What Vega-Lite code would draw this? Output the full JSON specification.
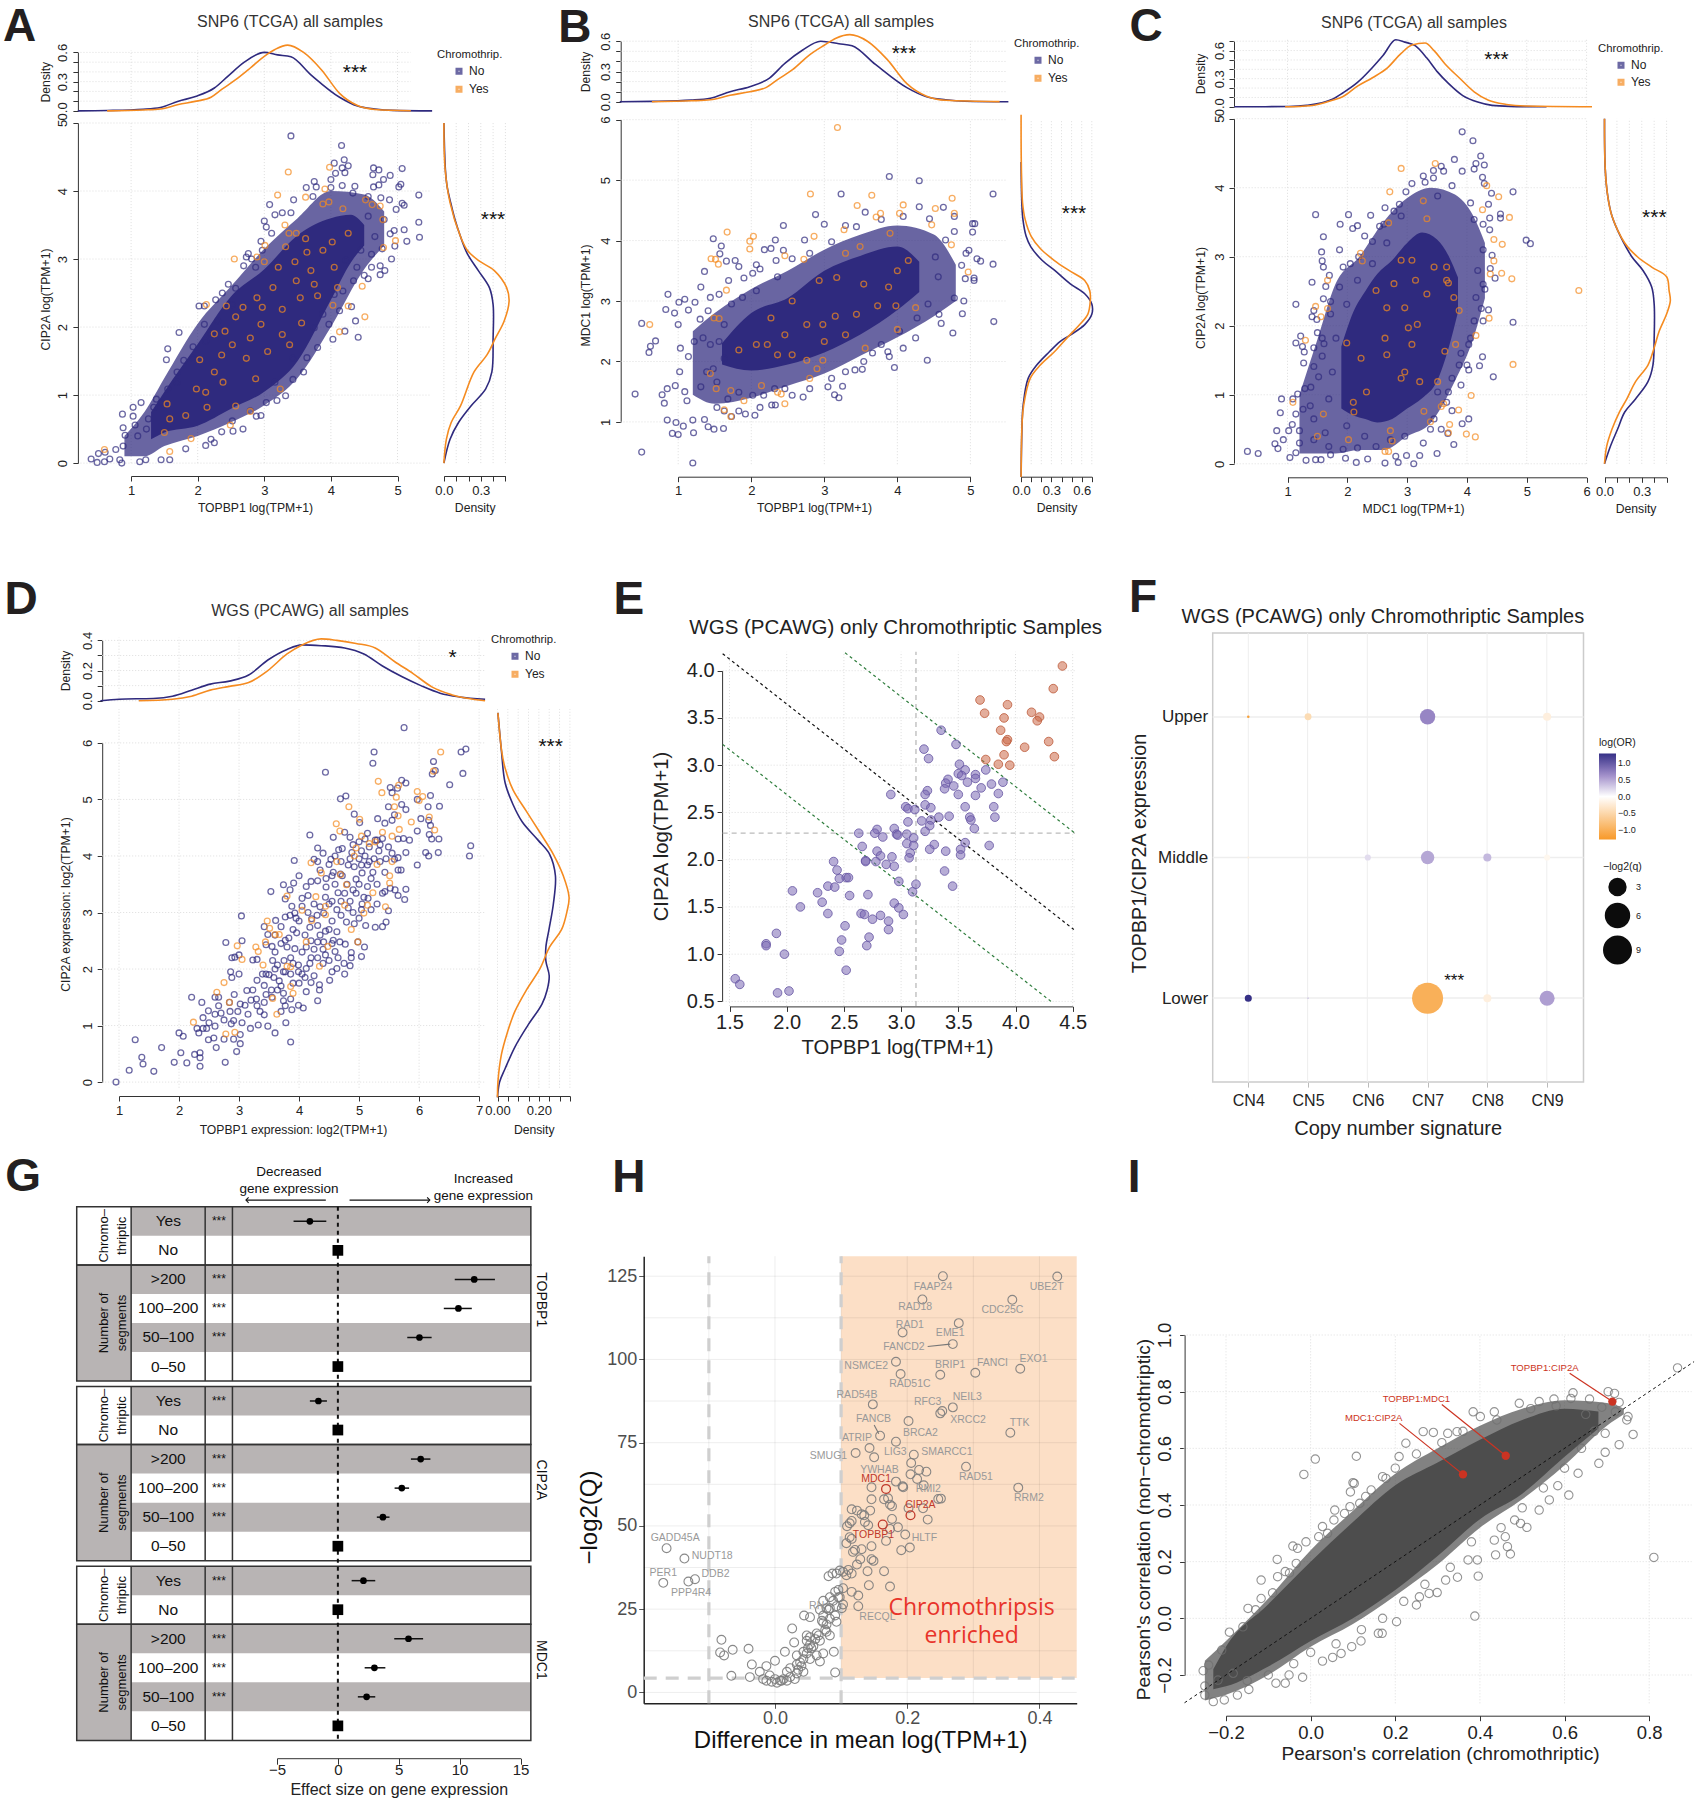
{"$schema":"https://vega.github.io/schema/vega-lite/v6.json","width":1695,"height":1800,"padding":0,"autosize":{"type":"fit","contains":"padding"},"background":"white",
"config":{"font":"Liberation Sans","view":{"stroke":null},"axis":{"grid":false,"labelOverlap":false,"labelFlush":false,"labelBound":false,"domainColor":"#333333","tickColor":"#333333","labelColor":"#222222","titleColor":"#222222","titleFontWeight":"normal","labelFontSize":13,"titleFontSize":12.2,"tickSize":5,"labelPadding":3,"titlePadding":4},"legend":{"titleFontWeight":"normal","titleColor":"#222222","labelColor":"#222222"}},
"resolve":{"scale":{"x":"independent","y":"independent","color":"independent","size":"independent"},"axis":{"x":"independent","y":"independent"},"legend":{"color":"independent","size":"independent"}},
"layer":[
{"layer":[
{"data":{"values":[{"x":1},{"x":2},{"x":3},{"x":4},{"x":5}]},"mark":{"type":"rule","color":"#dddddd","strokeDash":[1,2]},"encoding":{"x":{"field":"x","type":"quantitative","scale":{"domain":[1,5],"range":[131.1,397.5],"nice":false,"zero":false},"axis":null},"y":{"datum":0,"scale":{"domain":[0,0.6],"range":[110.9,52.4],"nice":false,"zero":false},"axis":{"orient":"left","title":"Density","values":[0,0.1,0.2,0.3,0.4,0.5,0.6],"labelExpr":"round(datum.value*10)%3==0 ? format(datum.value,'.1f') : ''","labelAngle":-90,"offset":-77.9}},"y2":{"datum":0.62}}},
{"data":{"values":[{"y":0},{"y":0.1},{"y":0.2},{"y":0.3},{"y":0.4},{"y":0.5},{"y":0.6}]},"mark":{"type":"rule","color":"#dddddd","strokeDash":[1,2]},"encoding":{"y":{"field":"y","type":"quantitative"},"x":{"datum":0.24,"axis":null},"x2":{"datum":5.2}}},
{"data":{"values":[{"x":0.2,"y":0,"g":"No"},{"x":0.64,"y":0.004,"g":"No"},{"x":1.18,"y":0.017,"g":"No"},{"x":1.44,"y":0.035,"g":"No"},{"x":1.71,"y":0.1,"g":"No"},{"x":1.98,"y":0.15,"g":"No"},{"x":2.25,"y":0.235,"g":"No"},{"x":2.46,"y":0.36,"g":"No"},{"x":2.7,"y":0.5,"g":"No"},{"x":3,"y":0.6,"g":"No"},{"x":3.2,"y":0.575,"g":"No"},{"x":3.4,"y":0.555,"g":"No"},{"x":3.7,"y":0.37,"g":"No"},{"x":4.13,"y":0.14,"g":"No"},{"x":4.4,"y":0.05,"g":"No"},{"x":4.66,"y":0.02,"g":"No"},{"x":4.93,"y":0.005,"g":"No"},{"x":5.52,"y":0,"g":"No"},{"x":0.64,"y":0,"g":"Yes"},{"x":1.18,"y":0.01,"g":"Yes"},{"x":1.44,"y":0.02,"g":"Yes"},{"x":1.71,"y":0.065,"g":"Yes"},{"x":1.98,"y":0.1,"g":"Yes"},{"x":2.2,"y":0.14,"g":"Yes"},{"x":2.36,"y":0.22,"g":"Yes"},{"x":2.57,"y":0.32,"g":"Yes"},{"x":2.79,"y":0.44,"g":"Yes"},{"x":3,"y":0.56,"g":"Yes"},{"x":3.16,"y":0.63,"g":"Yes"},{"x":3.35,"y":0.675,"g":"Yes"},{"x":3.59,"y":0.6,"g":"Yes"},{"x":3.86,"y":0.42,"g":"Yes"},{"x":4.13,"y":0.18,"g":"Yes"},{"x":4.4,"y":0.055,"g":"Yes"},{"x":4.66,"y":0.015,"g":"Yes"},{"x":5.2,"y":0.002,"g":"Yes"}]},"mark":{"type":"line","interpolate":"monotone","strokeWidth":1.6},"encoding":{"x":{"field":"x","type":"quantitative","axis":null},"y":{"field":"y","type":"quantitative"},"color":{"field":"g","type":"nominal","scale":{"domain":["No","Yes"],"range":["#2f2a7e","#f58b20"]},"legend":null}}},
{"data":{"values":[{"t":"SNP6 (TCGA) all samples","x":3.386,"y":0.912}]},"mark":{"type":"text","fontSize":16,"color":"#333333"},"encoding":{"x":{"field":"x","type":"quantitative","axis":null},"y":{"field":"y","type":"quantitative"},"text":{"field":"t"}}},
{"data":{"values":[{"t":"A","x":-0.674,"y":0.712}]},"mark":{"type":"text","fontSize":46,"fontWeight":"bold","baseline":"alphabetic","color":"#231f20"},"encoding":{"x":{"field":"x","type":"quantitative","axis":null},"y":{"field":"y","type":"quantitative"},"text":{"field":"t"}}},
{"data":{"values":[{"t":"***","x":4.362,"y":0.39}]},"mark":{"type":"text","fontSize":21,"color":"#111111"},"encoding":{"x":{"field":"x","type":"quantitative","axis":null},"y":{"field":"y","type":"quantitative"},"text":{"field":"t"}}}
]},
{"layer":[
{"data":{"values":[{"x":1},{"x":2},{"x":3},{"x":4},{"x":5}]},"mark":{"type":"rule","color":"#dddddd","strokeDash":[1,2]},"encoding":{"x":{"field":"x","type":"quantitative","scale":{"domain":[1,5],"range":[131.1,397.5],"nice":false,"zero":false},"axis":{"orient":"bottom","title":"TOPBP1 log(TPM+1)","values":[1,2,3,4,5],"format":"d","offset":-1324,"titleX":255}},"y":{"datum":0,"scale":{"domain":[0,5],"range":[463.1,123],"nice":false,"zero":false},"axis":{"orient":"left","title":"CIP2A log(TPM+1)","values":[0,1,2,3,4,5],"format":"d","labelAngle":-90,"offset":-77.9,"titleY":299}},"y2":{"datum":5}}},
{"data":{"values":[{"y":0},{"y":1},{"y":2},{"y":3},{"y":4},{"y":5}]},"mark":{"type":"rule","color":"#dddddd","strokeDash":[1,2]},"encoding":{"y":{"field":"y","type":"quantitative"},"x":{"datum":0.24},"x2":{"datum":5.5}}},
{"data":{"values":[{"x":0.9,"lo":0.1,"hi":0.4},{"x":1.2,"lo":0.1,"hi":0.75},{"x":1.5,"lo":0.25,"hi":1.25},{"x":2,"lo":0.4,"hi":2.05},{"x":2.5,"lo":0.6,"hi":2.6},{"x":3,"lo":0.85,"hi":3.15},{"x":3.5,"lo":1.25,"hi":3.6},{"x":4,"lo":2,"hi":4},{"x":4.5,"lo":2.85,"hi":3.95},{"x":4.8,"lo":3.2,"hi":3.7}]},"mark":{"type":"area","color":"#2f2a7e","opacity":0.72,"interpolate":"monotone"},"encoding":{"x":{"field":"x","type":"quantitative"},"y":{"field":"lo","type":"quantitative"},"y2":{"field":"hi"}}},
{"data":{"values":[{"x":1.3,"lo":0.35,"hi":0.75},{"x":1.5,"lo":0.45,"hi":1.05},{"x":2,"lo":0.55,"hi":1.75},{"x":2.5,"lo":0.8,"hi":2.45},{"x":3,"lo":1.05,"hi":2.85},{"x":3.5,"lo":1.5,"hi":3.35},{"x":4,"lo":2.4,"hi":3.6},{"x":4.3,"lo":2.95,"hi":3.65},{"x":4.5,"lo":3.2,"hi":3.5}]},"mark":{"type":"area","color":"#2f2a7e","interpolate":"monotone"},"encoding":{"x":{"field":"x","type":"quantitative"},"y":{"field":"lo","type":"quantitative"},"y2":{"field":"hi"}}},
{"data":{"values":[{"x":3.4,"y":4.81,"g":"No"},{"x":4.16,"y":4.67,"g":"No"},{"x":4.2,"y":4.46,"g":"No"},{"x":4.07,"y":4.26,"g":"No"},{"x":4,"y":4.17,"g":"No"},{"x":4.26,"y":4.37,"g":"No"},{"x":4.17,"y":4.34,"g":"No"},{"x":4.21,"y":4.27,"g":"No"},{"x":4.05,"y":4.41,"g":"No"},{"x":4.64,"y":4.34,"g":"No"},{"x":4.72,"y":4.31,"g":"No"},{"x":5.07,"y":4.33,"g":"No"},{"x":4.63,"y":4.24,"g":"No"},{"x":4.89,"y":4.23,"g":"No"},{"x":4.79,"y":4.17,"g":"No"},{"x":5.05,"y":4.1,"g":"No"},{"x":5.02,"y":4.06,"g":"No"},{"x":4.72,"y":4.09,"g":"No"},{"x":4.64,"y":4.06,"g":"No"},{"x":5.32,"y":3.94,"g":"No"},{"x":5.07,"y":3.82,"g":"No"},{"x":5.1,"y":3.79,"g":"No"},{"x":4.98,"y":3.73,"g":"No"},{"x":5.32,"y":3.54,"g":"No"},{"x":5.33,"y":3.32,"g":"No"},{"x":5.14,"y":3.26,"g":"No"},{"x":5.1,"y":3.43,"g":"No"},{"x":4.89,"y":3.37,"g":"No"},{"x":4.95,"y":3.42,"g":"No"},{"x":4.96,"y":3.19,"g":"No"},{"x":4.91,"y":3,"g":"No"},{"x":4.74,"y":2.9,"g":"No"},{"x":4.81,"y":2.83,"g":"No"},{"x":4.74,"y":2.77,"g":"No"},{"x":4.61,"y":2.88,"g":"No"},{"x":4.56,"y":2.71,"g":"No"},{"x":4.5,"y":2.76,"g":"No"},{"x":4.34,"y":2.68,"g":"No"},{"x":4.31,"y":2.3,"g":"No"},{"x":4.37,"y":2.09,"g":"No"},{"x":4.41,"y":1.85,"g":"No"},{"x":4.21,"y":1.94,"g":"No"},{"x":4.03,"y":1.82,"g":"No"},{"x":4.13,"y":2.24,"g":"No"},{"x":4.05,"y":2.48,"g":"No"},{"x":4.18,"y":2.53,"g":"No"},{"x":3.97,"y":2.04,"g":"No"},{"x":3.8,"y":1.7,"g":"No"},{"x":3.64,"y":1.55,"g":"No"},{"x":3.59,"y":1.34,"g":"No"},{"x":3.43,"y":1.23,"g":"No"},{"x":3.32,"y":0.99,"g":"No"},{"x":3.19,"y":0.92,"g":"No"},{"x":3.03,"y":0.89,"g":"No"},{"x":2.95,"y":0.7,"g":"No"},{"x":2.88,"y":0.69,"g":"No"},{"x":2.68,"y":0.5,"g":"No"},{"x":2.53,"y":0.47,"g":"No"},{"x":2.36,"y":0.46,"g":"No"},{"x":2.2,"y":0.35,"g":"No"},{"x":2.12,"y":0.26,"g":"No"},{"x":1.82,"y":0.21,"g":"No"},{"x":1.58,"y":0.05,"g":"No"},{"x":1.45,"y":0.05,"g":"No"},{"x":1.22,"y":0.05,"g":"No"},{"x":1.13,"y":0.02,"g":"No"},{"x":0.86,"y":0,"g":"No"},{"x":0.83,"y":0.05,"g":"No"},{"x":0.68,"y":0.06,"g":"No"},{"x":0.6,"y":0.02,"g":"No"},{"x":0.49,"y":0.01,"g":"No"},{"x":0.4,"y":0.06,"g":"No"},{"x":0.51,"y":0.14,"g":"No"},{"x":0.61,"y":0.16,"g":"No"},{"x":0.77,"y":0.2,"g":"No"},{"x":0.88,"y":0.25,"g":"No"},{"x":0.91,"y":0.41,"g":"No"},{"x":0.88,"y":0.52,"g":"No"},{"x":0.87,"y":0.72,"g":"No"},{"x":1.03,"y":0.69,"g":"No"},{"x":1.03,"y":0.82,"g":"No"},{"x":1.15,"y":0.89,"g":"No"},{"x":1.06,"y":0.56,"g":"No"},{"x":1.26,"y":0.65,"g":"No"},{"x":1.38,"y":0.94,"g":"No"},{"x":1.34,"y":0.82,"g":"No"},{"x":1.53,"y":1.52,"g":"No"},{"x":1.55,"y":1.68,"g":"No"},{"x":1.72,"y":1.92,"g":"No"},{"x":1.69,"y":1.34,"g":"No"},{"x":1.79,"y":1.51,"g":"No"},{"x":1.93,"y":1.71,"g":"No"},{"x":2.02,"y":2.31,"g":"No"},{"x":2.1,"y":2.31,"g":"No"},{"x":2.27,"y":2.4,"g":"No"},{"x":2.1,"y":2.04,"g":"No"},{"x":2.37,"y":2.5,"g":"No"},{"x":2.46,"y":2.63,"g":"No"},{"x":2.57,"y":2.57,"g":"No"},{"x":2.73,"y":3.03,"g":"No"},{"x":2.76,"y":3.08,"g":"No"},{"x":2.69,"y":2.9,"g":"No"},{"x":2.81,"y":3,"g":"No"},{"x":2.95,"y":3.26,"g":"No"},{"x":3,"y":3.56,"g":"No"},{"x":3.03,"y":3.47,"g":"No"},{"x":3.08,"y":3.8,"g":"No"},{"x":3.44,"y":3.87,"g":"No"},{"x":3.27,"y":3.68,"g":"No"},{"x":3.16,"y":3.65,"g":"No"},{"x":3.4,"y":3.68,"g":"No"},{"x":3.75,"y":4.14,"g":"No"},{"x":3.63,"y":4.05,"g":"No"},{"x":3.78,"y":4.06,"g":"No"},{"x":3.73,"y":3.92,"g":"No"},{"x":4.36,"y":4.07,"g":"No"},{"x":4.33,"y":3.97,"g":"No"},{"x":4,"y":4.05,"g":"No"},{"x":4.17,"y":4.08,"g":"No"},{"x":4.56,"y":3.92,"g":"No"},{"x":4.75,"y":3.9,"g":"No"},{"x":4.88,"y":3.87,"g":"No"},{"x":4.56,"y":3.63,"g":"No"},{"x":4.8,"y":3.58,"g":"No"},{"x":4.66,"y":3.33,"g":"No"},{"x":4.77,"y":3.15,"g":"No"},{"x":4.61,"y":3.07,"g":"No"},{"x":3.11,"y":3.38,"g":"No"},{"x":2.97,"y":3.13,"g":"No"},{"x":2.87,"y":2.88,"g":"No"},{"x":2.52,"y":2.33,"g":"No"},{"x":2.3,"y":2.09,"g":"No"},{"x":2.2,"y":1.89,"g":"No"},{"x":2.12,"y":1.79,"g":"No"},{"x":1.93,"y":1.54,"g":"No"},{"x":1.69,"y":1.19,"g":"No"},{"x":1.55,"y":1.09,"g":"No"},{"x":1.45,"y":0.89,"g":"No"},{"x":1.23,"y":0.5,"g":"No"},{"x":1.1,"y":0.4,"g":"No"},{"x":2.25,"y":0.3,"g":"No"},{"x":2.52,"y":0.62,"g":"No"},{"x":2.79,"y":0.77,"g":"No"},{"x":3.16,"y":1.19,"g":"No"},{"x":3.43,"y":1.54,"g":"No"},{"x":3.75,"y":1.99,"g":"No"},{"x":3.88,"y":2.19,"g":"No"},{"x":4.23,"y":2.98,"g":"No"},{"x":4.39,"y":2.88,"g":"No"},{"x":4.45,"y":3.13,"g":"No"},{"x":3.36,"y":4.28,"g":"Yes"},{"x":3.98,"y":4.35,"g":"Yes"},{"x":3.2,"y":3.94,"g":"Yes"},{"x":3.91,"y":4.03,"g":"Yes"},{"x":3.62,"y":3.91,"g":"Yes"},{"x":3.88,"y":3.81,"g":"Yes"},{"x":3.97,"y":3.84,"g":"Yes"},{"x":4.18,"y":3.74,"g":"Yes"},{"x":4.52,"y":3.87,"g":"Yes"},{"x":4.62,"y":3.8,"g":"Yes"},{"x":4.74,"y":3.78,"g":"Yes"},{"x":4.78,"y":3.58,"g":"Yes"},{"x":3.31,"y":3.5,"g":"Yes"},{"x":3.37,"y":3.38,"g":"Yes"},{"x":4.97,"y":3.27,"g":"Yes"},{"x":4.79,"y":3.17,"g":"Yes"},{"x":2.55,"y":3,"g":"Yes"},{"x":2.89,"y":3.03,"g":"Yes"},{"x":3.01,"y":3.2,"g":"Yes"},{"x":3,"y":2.96,"g":"Yes"},{"x":4.47,"y":2.6,"g":"Yes"},{"x":4.26,"y":2.31,"g":"Yes"},{"x":4.51,"y":2.15,"g":"Yes"},{"x":4.13,"y":1.93,"g":"Yes"},{"x":4.03,"y":2.32,"g":"Yes"},{"x":2.43,"y":2.31,"g":"Yes"},{"x":2.13,"y":2.33,"g":"Yes"},{"x":2.25,"y":1.9,"g":"Yes"},{"x":2.03,"y":1.52,"g":"Yes"},{"x":2.49,"y":0.56,"g":"Yes"},{"x":2.79,"y":0.76,"g":"Yes"},{"x":3.24,"y":1.09,"g":"Yes"},{"x":0.6,"y":0.2,"g":"Yes"},{"x":1.58,"y":0.17,"g":"Yes"},{"x":1.5,"y":0.45,"g":"Yes"},{"x":1.54,"y":0.87,"g":"Yes"},{"x":1.58,"y":0.65,"g":"Yes"},{"x":1.9,"y":0.36,"g":"Yes"},{"x":2.14,"y":0.82,"g":"Yes"},{"x":2.12,"y":1.04,"g":"Yes"},{"x":2.38,"y":1.19,"g":"Yes"},{"x":2.36,"y":1.59,"g":"Yes"},{"x":2.57,"y":0.84,"g":"Yes"},{"x":2.87,"y":1.24,"g":"Yes"},{"x":2.52,"y":1.74,"g":"Yes"},{"x":2.79,"y":1.84,"g":"Yes"},{"x":3.05,"y":1.64,"g":"Yes"},{"x":3.38,"y":1.74,"g":"Yes"},{"x":2.95,"y":2.04,"g":"Yes"},{"x":3.27,"y":1.89,"g":"Yes"},{"x":3.56,"y":2.06,"g":"Yes"},{"x":2.57,"y":2.15,"g":"Yes"},{"x":2.97,"y":2.29,"g":"Yes"},{"x":3.27,"y":2.26,"g":"Yes"},{"x":3.54,"y":2.43,"g":"Yes"},{"x":3.8,"y":2.46,"g":"Yes"},{"x":3.13,"y":2.58,"g":"Yes"},{"x":3.48,"y":2.68,"g":"Yes"},{"x":3.7,"y":2.83,"g":"Yes"},{"x":3.21,"y":2.88,"g":"Yes"},{"x":3.46,"y":2.96,"g":"Yes"},{"x":3.64,"y":3.1,"g":"Yes"},{"x":3.88,"y":3.13,"g":"Yes"},{"x":4.05,"y":2.88,"g":"Yes"},{"x":4.02,"y":3.25,"g":"Yes"},{"x":4.26,"y":3.38,"g":"Yes"},{"x":3.48,"y":3.38,"g":"Yes"},{"x":3.62,"y":3.3,"g":"Yes"},{"x":2.73,"y":1.54,"g":"Yes"},{"x":2.25,"y":1.34,"g":"Yes"},{"x":1.98,"y":1.09,"g":"Yes"},{"x":1.82,"y":0.7,"g":"Yes"},{"x":2.41,"y":1.94,"g":"Yes"},{"x":2.68,"y":2.29,"g":"Yes"},{"x":2.89,"y":2.43,"g":"Yes"},{"x":3.75,"y":2.63,"g":"Yes"},{"x":4.1,"y":2.58,"g":"Yes"},{"x":3.32,"y":3.18,"g":"Yes"}]},"mark":{"type":"point","filled":false,"size":34,"strokeWidth":1.3},"encoding":{"x":{"field":"x","type":"quantitative"},"y":{"field":"y","type":"quantitative"},"color":{"field":"g","type":"nominal","scale":{"domain":["No","Yes"],"range":["#2f2a7e","#f58b20"]},"legend":{"title":"Chromothrip.","orient":"none","legendX":437,"legendY":49,"symbolType":"square","symbolSize":16,"symbolStrokeWidth":3,"symbolOffset":16,"titleFontSize":11.3,"labelFontSize":12,"rowPadding":2,"labelOffset":4}}}}
]},
{"layer":[
{"data":{"values":[{"x":0},{"x":0.1},{"x":0.2},{"x":0.3},{"x":0.4},{"x":0.5}]},"mark":{"type":"rule","color":"#dddddd","strokeDash":[1,2]},"encoding":{"x":{"field":"x","type":"quantitative","scale":{"domain":[0,0.5],"range":[443.9,505.4],"nice":false,"zero":false},"axis":{"orient":"bottom","title":"Density","values":[0,0.1,0.2,0.3,0.4,0.5],"labelExpr":"round(datum.value*10)%3==0 ? format(datum.value,'.1f') : ''","offset":-1324}},"y":{"datum":0,"scale":{"domain":[0,5],"range":[463.1,123],"nice":false,"zero":false},"axis":null},"y2":{"datum":5}}},
{"data":{"values":[{"x":0,"y":0,"g":"No"},{"x":0.05,"y":0.35,"g":"No"},{"x":0.12,"y":0.6,"g":"No"},{"x":0.22,"y":0.84,"g":"No"},{"x":0.34,"y":1.09,"g":"No"},{"x":0.39,"y":1.34,"g":"No"},{"x":0.4,"y":1.84,"g":"No"},{"x":0.4,"y":2.33,"g":"No"},{"x":0.37,"y":2.58,"g":"No"},{"x":0.28,"y":2.83,"g":"No"},{"x":0.19,"y":3.08,"g":"No"},{"x":0.135,"y":3.33,"g":"No"},{"x":0.09,"y":3.58,"g":"No"},{"x":0.055,"y":3.83,"g":"No"},{"x":0.026,"y":4.07,"g":"No"},{"x":0.012,"y":4.32,"g":"No"},{"x":0,"y":5,"g":"No"},{"x":0,"y":0,"g":"Yes"},{"x":0.02,"y":0.35,"g":"Yes"},{"x":0.06,"y":0.6,"g":"Yes"},{"x":0.135,"y":0.84,"g":"Yes"},{"x":0.245,"y":1.34,"g":"Yes"},{"x":0.35,"y":1.59,"g":"Yes"},{"x":0.42,"y":1.84,"g":"Yes"},{"x":0.49,"y":2.09,"g":"Yes"},{"x":0.53,"y":2.38,"g":"Yes"},{"x":0.51,"y":2.58,"g":"Yes"},{"x":0.41,"y":2.83,"g":"Yes"},{"x":0.28,"y":2.98,"g":"Yes"},{"x":0.19,"y":3.13,"g":"Yes"},{"x":0.135,"y":3.33,"g":"Yes"},{"x":0.05,"y":3.83,"g":"Yes"},{"x":0.01,"y":4.32,"g":"Yes"},{"x":0,"y":5,"g":"Yes"}]},"mark":{"type":"line","interpolate":"catmull-rom","strokeWidth":1.6},"encoding":{"x":{"field":"x","type":"quantitative"},"y":{"field":"y","type":"quantitative","axis":null},"order":{"field":"y"},"color":{"field":"g","type":"nominal","scale":{"domain":["No","Yes"],"range":["#2f2a7e","#f58b20"]},"legend":null}}},
{"data":{"values":[{"t":"***","x":0.399,"y":3.58}]},"mark":{"type":"text","fontSize":21,"color":"#111111"},"encoding":{"x":{"field":"x","type":"quantitative"},"y":{"field":"y","type":"quantitative","axis":null},"text":{"field":"t"}}}
]},
{"layer":[
{"data":{"values":[{"x":1},{"x":2},{"x":3},{"x":4},{"x":5}]},"mark":{"type":"rule","color":"#dddddd","strokeDash":[1,2]},"encoding":{"x":{"field":"x","type":"quantitative","scale":{"domain":[1,5],"range":[678.2,970.4],"nice":false,"zero":false},"axis":null},"y":{"datum":0,"scale":{"domain":[0,0.6],"range":[101.8,41.2],"nice":false,"zero":false},"axis":{"orient":"left","title":"Density","values":[0,0.1,0.2,0.3,0.4,0.5,0.6],"labelExpr":"round(datum.value*10)%3==0 ? format(datum.value,'.1f') : ''","labelAngle":-90,"offset":-620.7,"titlePadding":7}},"y2":{"datum":0.62}}},
{"data":{"values":[{"y":0},{"y":0.1},{"y":0.2},{"y":0.3},{"y":0.4},{"y":0.5},{"y":0.6}]},"mark":{"type":"rule","color":"#dddddd","strokeDash":[1,2]},"encoding":{"y":{"field":"y","type":"quantitative"},"x":{"datum":0.21,"axis":null},"x2":{"datum":5.5}}},
{"data":{"values":[{"x":0.2,"y":0,"g":"No"},{"x":0.64,"y":0.004,"g":"No"},{"x":1.18,"y":0.017,"g":"No"},{"x":1.44,"y":0.035,"g":"No"},{"x":1.71,"y":0.1,"g":"No"},{"x":1.98,"y":0.15,"g":"No"},{"x":2.25,"y":0.235,"g":"No"},{"x":2.46,"y":0.38,"g":"No"},{"x":2.7,"y":0.51,"g":"No"},{"x":2.95,"y":0.6,"g":"No"},{"x":3.2,"y":0.575,"g":"No"},{"x":3.38,"y":0.555,"g":"No"},{"x":3.7,"y":0.37,"g":"No"},{"x":4.13,"y":0.14,"g":"No"},{"x":4.4,"y":0.05,"g":"No"},{"x":4.66,"y":0.02,"g":"No"},{"x":4.93,"y":0.005,"g":"No"},{"x":5.52,"y":0,"g":"No"},{"x":0.64,"y":0,"g":"Yes"},{"x":1.18,"y":0.01,"g":"Yes"},{"x":1.44,"y":0.02,"g":"Yes"},{"x":1.71,"y":0.065,"g":"Yes"},{"x":1.98,"y":0.1,"g":"Yes"},{"x":2.2,"y":0.14,"g":"Yes"},{"x":2.36,"y":0.22,"g":"Yes"},{"x":2.57,"y":0.32,"g":"Yes"},{"x":2.79,"y":0.46,"g":"Yes"},{"x":3,"y":0.56,"g":"Yes"},{"x":3.16,"y":0.63,"g":"Yes"},{"x":3.35,"y":0.665,"g":"Yes"},{"x":3.59,"y":0.6,"g":"Yes"},{"x":3.86,"y":0.42,"g":"Yes"},{"x":4.13,"y":0.18,"g":"Yes"},{"x":4.4,"y":0.055,"g":"Yes"},{"x":4.66,"y":0.015,"g":"Yes"},{"x":5.4,"y":0.002,"g":"Yes"}]},"mark":{"type":"line","interpolate":"monotone","strokeWidth":1.6},"encoding":{"x":{"field":"x","type":"quantitative","axis":null},"y":{"field":"y","type":"quantitative"},"color":{"field":"g","type":"nominal","scale":{"domain":["No","Yes"],"range":["#2f2a7e","#f58b20"]},"legend":null}}},
{"data":{"values":[{"t":"SNP6 (TCGA) all samples","x":3.229,"y":0.79}]},"mark":{"type":"text","fontSize":16,"color":"#333333"},"encoding":{"x":{"field":"x","type":"quantitative","axis":null},"y":{"field":"y","type":"quantitative"},"text":{"field":"t"}}},
{"data":{"values":[{"t":"B","x":-0.415,"y":0.597}]},"mark":{"type":"text","fontSize":46,"fontWeight":"bold","baseline":"alphabetic","color":"#231f20"},"encoding":{"x":{"field":"x","type":"quantitative","axis":null},"y":{"field":"y","type":"quantitative"},"text":{"field":"t"}}},
{"data":{"values":[{"t":"***","x":4.09,"y":0.47}]},"mark":{"type":"text","fontSize":21,"color":"#111111"},"encoding":{"x":{"field":"x","type":"quantitative","axis":null},"y":{"field":"y","type":"quantitative"},"text":{"field":"t"}}}
]},
{"layer":[
{"data":{"values":[{"x":1},{"x":2},{"x":3},{"x":4},{"x":5}]},"mark":{"type":"rule","color":"#dddddd","strokeDash":[1,2]},"encoding":{"x":{"field":"x","type":"quantitative","scale":{"domain":[1,5],"range":[678.2,970.4],"nice":false,"zero":false},"axis":{"orient":"bottom","title":"TOPBP1 log(TPM+1)","values":[1,2,3,4,5],"format":"d","offset":-1323.3,"titleX":814}},"y":{"datum":0.3,"scale":{"domain":[1,6],"range":[421.9,119.7],"nice":false,"zero":false},"axis":{"orient":"left","title":"MDC1 log(TPM+1)","values":[1,2,3,4,5,6],"format":"d","labelAngle":-90,"offset":-620.7,"titleY":295,"titlePadding":7}},"y2":{"datum":6}}},
{"data":{"values":[{"y":1},{"y":2},{"y":3},{"y":4},{"y":5},{"y":6}]},"mark":{"type":"rule","color":"#dddddd","strokeDash":[1,2]},"encoding":{"y":{"field":"y","type":"quantitative"},"x":{"datum":0.21},"x2":{"datum":5.5}}},
{"data":{"values":[{"x":1.2,"lo":1.45,"hi":2.5},{"x":1.5,"lo":1.3,"hi":2.8},{"x":2,"lo":1.4,"hi":3.2},{"x":2.5,"lo":1.6,"hi":3.5},{"x":3,"lo":1.8,"hi":3.85},{"x":3.5,"lo":2.1,"hi":4.1},{"x":4,"lo":2.4,"hi":4.25},{"x":4.5,"lo":2.75,"hi":4.1},{"x":4.8,"lo":3,"hi":3.6}]},"mark":{"type":"area","color":"#2f2a7e","opacity":0.72,"interpolate":"monotone"},"encoding":{"x":{"field":"x","type":"quantitative"},"y":{"field":"lo","type":"quantitative"},"y2":{"field":"hi"}}},
{"data":{"values":[{"x":1.6,"lo":1.95,"hi":2.3},{"x":2,"lo":1.85,"hi":2.8},{"x":2.5,"lo":1.95,"hi":3.05},{"x":3,"lo":2.15,"hi":3.5},{"x":3.5,"lo":2.45,"hi":3.75},{"x":4,"lo":2.85,"hi":3.9},{"x":4.3,"lo":3.15,"hi":3.65}]},"mark":{"type":"area","color":"#2f2a7e","interpolate":"monotone"},"encoding":{"x":{"field":"x","type":"quantitative"},"y":{"field":"lo","type":"quantitative"},"y2":{"field":"hi"}}},
{"data":{"values":[{"x":0.5,"y":0.5,"g":"No"},{"x":1.2,"y":0.32,"g":"No"},{"x":0.41,"y":1.46,"g":"No"},{"x":0.5,"y":2.63,"g":"No"},{"x":0.62,"y":2.25,"g":"No"},{"x":0.6,"y":2.15,"g":"No"},{"x":0.69,"y":2.34,"g":"No"},{"x":0.78,"y":1.45,"g":"No"},{"x":0.81,"y":1.31,"g":"No"},{"x":0.83,"y":2.86,"g":"No"},{"x":0.86,"y":3.11,"g":"No"},{"x":0.95,"y":2.8,"g":"No"},{"x":1.01,"y":2.98,"g":"No"},{"x":1.09,"y":3.03,"g":"No"},{"x":1,"y":2.61,"g":"No"},{"x":1.14,"y":2.85,"g":"No"},{"x":1.23,"y":2.98,"g":"No"},{"x":1.31,"y":3.23,"g":"No"},{"x":1.36,"y":3.49,"g":"No"},{"x":1.48,"y":4.03,"g":"No"},{"x":1.59,"y":3.91,"g":"No"},{"x":1.57,"y":3.78,"g":"No"},{"x":1.66,"y":3.66,"g":"No"},{"x":1.78,"y":3.67,"g":"No"},{"x":1.83,"y":3.57,"g":"No"},{"x":1.69,"y":3.34,"g":"No"},{"x":1.44,"y":3.06,"g":"No"},{"x":1.56,"y":3.11,"g":"No"},{"x":1.9,"y":3.38,"g":"No"},{"x":2.02,"y":3.46,"g":"No"},{"x":2.07,"y":3.6,"g":"No"},{"x":2.18,"y":3.85,"g":"No"},{"x":2.27,"y":3.87,"g":"No"},{"x":2.33,"y":4.01,"g":"No"},{"x":2.44,"y":4.25,"g":"No"},{"x":2.44,"y":3.84,"g":"No"},{"x":2.34,"y":3.67,"g":"No"},{"x":2.12,"y":3.53,"g":"No"},{"x":2.73,"y":4.01,"g":"No"},{"x":2.88,"y":4.43,"g":"No"},{"x":3,"y":4.27,"g":"No"},{"x":3.23,"y":4.77,"g":"No"},{"x":3.29,"y":4.25,"g":"No"},{"x":3.56,"y":4.47,"g":"No"},{"x":3.89,"y":5.06,"g":"No"},{"x":4.3,"y":4.99,"g":"No"},{"x":4.3,"y":4.56,"g":"No"},{"x":4.63,"y":4.55,"g":"No"},{"x":5.31,"y":4.77,"g":"No"},{"x":4.78,"y":4.4,"g":"No"},{"x":4.78,"y":4.15,"g":"No"},{"x":5.03,"y":4.28,"g":"No"},{"x":5.06,"y":4.28,"g":"No"},{"x":5.03,"y":4.14,"g":"No"},{"x":4.98,"y":3.84,"g":"No"},{"x":4.94,"y":3.79,"g":"No"},{"x":5.09,"y":3.7,"g":"No"},{"x":5.14,"y":3.66,"g":"No"},{"x":5.31,"y":3.61,"g":"No"},{"x":4.88,"y":3.59,"g":"No"},{"x":4.93,"y":3.37,"g":"No"},{"x":5.05,"y":3.38,"g":"No"},{"x":5.05,"y":3.34,"g":"No"},{"x":4.91,"y":3,"g":"No"},{"x":4.78,"y":3.05,"g":"No"},{"x":4.89,"y":2.79,"g":"No"},{"x":5.32,"y":2.66,"g":"No"},{"x":4.76,"y":2.47,"g":"No"},{"x":4.6,"y":2.63,"g":"No"},{"x":4.57,"y":2.78,"g":"No"},{"x":4.41,"y":2.02,"g":"No"},{"x":4.25,"y":2.39,"g":"No"},{"x":4.08,"y":2.22,"g":"No"},{"x":3.96,"y":1.9,"g":"No"},{"x":3.89,"y":2.08,"g":"No"},{"x":3.87,"y":2.16,"g":"No"},{"x":3.66,"y":2.14,"g":"No"},{"x":3.52,"y":1.87,"g":"No"},{"x":3.42,"y":1.86,"g":"No"},{"x":3.25,"y":1.59,"g":"No"},{"x":3.05,"y":1.58,"g":"No"},{"x":3.14,"y":1.45,"g":"No"},{"x":3.2,"y":1.4,"g":"No"},{"x":2.71,"y":1.41,"g":"No"},{"x":2.46,"y":1.55,"g":"No"},{"x":2.33,"y":1.28,"g":"No"},{"x":2.28,"y":1.28,"g":"No"},{"x":2.17,"y":1.44,"g":"No"},{"x":2.12,"y":1.24,"g":"No"},{"x":2.05,"y":1.11,"g":"No"},{"x":1.92,"y":1.13,"g":"No"},{"x":1.83,"y":1.18,"g":"No"},{"x":1.73,"y":1.09,"g":"No"},{"x":1.63,"y":1.18,"g":"No"},{"x":1.49,"y":0.88,"g":"No"},{"x":1.62,"y":0.89,"g":"No"},{"x":1.41,"y":0.92,"g":"No"},{"x":1.21,"y":0.82,"g":"No"},{"x":1,"y":0.79,"g":"No"},{"x":0.92,"y":0.81,"g":"No"},{"x":0.97,"y":0.99,"g":"No"},{"x":0.85,"y":1.03,"g":"No"},{"x":1.07,"y":0.93,"g":"No"},{"x":1.2,"y":1.03,"g":"No"},{"x":1.36,"y":1.04,"g":"No"},{"x":1.53,"y":1.24,"g":"No"},{"x":1.09,"y":1.5,"g":"No"},{"x":0.96,"y":1.6,"g":"No"},{"x":0.85,"y":1.55,"g":"No"},{"x":1.12,"y":1.35,"g":"No"},{"x":1.31,"y":1.58,"g":"No"},{"x":1.02,"y":1.83,"g":"No"},{"x":1.03,"y":2.22,"g":"No"},{"x":1.14,"y":2.08,"g":"No"},{"x":1.22,"y":2.33,"g":"No"},{"x":1.3,"y":2.7,"g":"No"},{"x":1.41,"y":2.84,"g":"No"},{"x":1.34,"y":2.39,"g":"No"},{"x":1.44,"y":2.28,"g":"No"},{"x":1.48,"y":1.88,"g":"No"},{"x":1.39,"y":1.83,"g":"No"},{"x":1.63,"y":2.61,"g":"No"},{"x":1.73,"y":2.95,"g":"No"},{"x":1.88,"y":3.06,"g":"No"},{"x":2.07,"y":3.17,"g":"No"},{"x":2.36,"y":3.4,"g":"No"},{"x":2.56,"y":3.7,"g":"No"},{"x":2.8,"y":3.79,"g":"No"},{"x":3.1,"y":3.98,"g":"No"},{"x":3.44,"y":4.23,"g":"No"},{"x":3.78,"y":4.35,"g":"No"},{"x":4.08,"y":4.4,"g":"No"},{"x":4.44,"y":4.36,"g":"No"},{"x":4.66,"y":4.01,"g":"No"},{"x":4.52,"y":3.73,"g":"No"},{"x":4.56,"y":3.4,"g":"No"},{"x":4.42,"y":2.95,"g":"No"},{"x":4.27,"y":2.72,"g":"No"},{"x":4.03,"y":2.5,"g":"No"},{"x":3.78,"y":2.28,"g":"No"},{"x":3.54,"y":2,"g":"No"},{"x":3.29,"y":1.83,"g":"No"},{"x":3.1,"y":1.72,"g":"No"},{"x":2.8,"y":1.55,"g":"No"},{"x":2.56,"y":1.44,"g":"No"},{"x":2.32,"y":1.55,"g":"No"},{"x":2.02,"y":1.44,"g":"No"},{"x":1.83,"y":1.49,"g":"No"},{"x":1.68,"y":1.38,"g":"No"},{"x":1.53,"y":1.66,"g":"No"},{"x":1.63,"y":2.05,"g":"No"},{"x":1.56,"y":2.33,"g":"No"},{"x":3.18,"y":5.87,"g":"Yes"},{"x":2.81,"y":4.77,"g":"Yes"},{"x":3.65,"y":4.75,"g":"Yes"},{"x":3.45,"y":4.58,"g":"Yes"},{"x":4.08,"y":4.59,"g":"Yes"},{"x":4.75,"y":4.7,"g":"Yes"},{"x":4.52,"y":4.53,"g":"Yes"},{"x":3.77,"y":4.45,"g":"Yes"},{"x":4.78,"y":4.45,"g":"Yes"},{"x":3.71,"y":4.39,"g":"Yes"},{"x":4.03,"y":4.45,"g":"Yes"},{"x":1.67,"y":4.14,"g":"Yes"},{"x":2.03,"y":4.07,"g":"Yes"},{"x":1.98,"y":3.99,"g":"Yes"},{"x":1.98,"y":3.86,"g":"Yes"},{"x":2.86,"y":4.07,"g":"Yes"},{"x":3.27,"y":4.18,"g":"Yes"},{"x":1.45,"y":3.7,"g":"Yes"},{"x":1.55,"y":3.61,"g":"Yes"},{"x":1.51,"y":3.69,"g":"Yes"},{"x":1.66,"y":3.18,"g":"Yes"},{"x":2.46,"y":3.75,"g":"Yes"},{"x":2.72,"y":3.69,"g":"Yes"},{"x":4.97,"y":3.48,"g":"Yes"},{"x":4.74,"y":3.93,"g":"Yes"},{"x":4.47,"y":4.26,"g":"Yes"},{"x":0.61,"y":2.61,"g":"Yes"},{"x":1.49,"y":2.72,"g":"Yes"},{"x":1.56,"y":2.71,"g":"Yes"},{"x":1.44,"y":1.8,"g":"Yes"},{"x":1.52,"y":1.55,"g":"Yes"},{"x":1.72,"y":1.52,"g":"Yes"},{"x":1.9,"y":1.35,"g":"Yes"},{"x":1.63,"y":1.2,"g":"Yes"},{"x":1.72,"y":1.09,"g":"Yes"},{"x":2.46,"y":1.3,"g":"Yes"},{"x":2.14,"y":1.6,"g":"Yes"},{"x":2.36,"y":1.49,"g":"Yes"},{"x":2.41,"y":1.46,"g":"Yes"},{"x":2.8,"y":1.72,"g":"Yes"},{"x":2.9,"y":1.88,"g":"Yes"},{"x":2.98,"y":2.02,"g":"Yes"},{"x":2.22,"y":2.28,"g":"Yes"},{"x":2.36,"y":2.11,"g":"Yes"},{"x":2.56,"y":2.11,"g":"Yes"},{"x":2.76,"y":2.02,"g":"Yes"},{"x":2.07,"y":2.28,"g":"Yes"},{"x":1.83,"y":2.19,"g":"Yes"},{"x":2.27,"y":2.72,"g":"Yes"},{"x":2.46,"y":2.44,"g":"Yes"},{"x":2.76,"y":2.61,"g":"Yes"},{"x":2.98,"y":2.61,"g":"Yes"},{"x":2.56,"y":3,"g":"Yes"},{"x":2.93,"y":3.34,"g":"Yes"},{"x":3.17,"y":3.39,"g":"Yes"},{"x":3.29,"y":3.79,"g":"Yes"},{"x":3.49,"y":3.9,"g":"Yes"},{"x":3.9,"y":4.12,"g":"Yes"},{"x":4.15,"y":3.67,"g":"Yes"},{"x":4,"y":3.5,"g":"Yes"},{"x":3.88,"y":3.23,"g":"Yes"},{"x":3.54,"y":3.28,"g":"Yes"},{"x":3.15,"y":2.75,"g":"Yes"},{"x":3.44,"y":2.78,"g":"Yes"},{"x":3.73,"y":2.92,"g":"Yes"},{"x":3.98,"y":2.92,"g":"Yes"},{"x":4.25,"y":2.89,"g":"Yes"},{"x":4,"y":2.53,"g":"Yes"},{"x":3.56,"y":2.22,"g":"Yes"},{"x":3.29,"y":2.44,"g":"Yes"},{"x":3,"y":2.33,"g":"Yes"}]},"mark":{"type":"point","filled":false,"size":34,"strokeWidth":1.3},"encoding":{"x":{"field":"x","type":"quantitative"},"y":{"field":"y","type":"quantitative"},"color":{"field":"g","type":"nominal","scale":{"domain":["No","Yes"],"range":["#2f2a7e","#f58b20"]},"legend":{"title":"Chromothrip.","orient":"none","legendX":1014,"legendY":38,"symbolType":"square","symbolSize":16,"symbolStrokeWidth":3,"symbolOffset":18,"titleFontSize":11.3,"labelFontSize":12,"rowPadding":2,"labelOffset":4}}}}
]},
{"layer":[
{"data":{"values":[{"x":0},{"x":0.1},{"x":0.2},{"x":0.3},{"x":0.4},{"x":0.5},{"x":0.6},{"x":0.7}]},"mark":{"type":"rule","color":"#dddddd","strokeDash":[1,2]},"encoding":{"x":{"field":"x","type":"quantitative","scale":{"domain":[0,0.7],"range":[1021.1,1091.8],"nice":false,"zero":false},"axis":{"orient":"bottom","title":"Density","values":[0,0.1,0.2,0.3,0.4,0.5,0.6,0.7],"labelExpr":"round(datum.value*10)%3==0 ? format(datum.value,'.1f') : ''","offset":-1323.3}},"y":{"datum":0.3,"scale":{"domain":[1,6],"range":[421.9,119.7],"nice":false,"zero":false},"axis":null},"y2":{"datum":6}}},
{"data":{"values":[{"x":0,"y":0.09,"g":"No"},{"x":0.01,"y":0.99,"g":"No"},{"x":0.02,"y":1.27,"g":"No"},{"x":0.07,"y":1.72,"g":"No"},{"x":0.155,"y":1.94,"g":"No"},{"x":0.28,"y":2.16,"g":"No"},{"x":0.385,"y":2.33,"g":"No"},{"x":0.49,"y":2.44,"g":"No"},{"x":0.63,"y":2.61,"g":"No"},{"x":0.7,"y":2.78,"g":"No"},{"x":0.7,"y":2.95,"g":"No"},{"x":0.63,"y":3.12,"g":"No"},{"x":0.49,"y":3.28,"g":"No"},{"x":0.33,"y":3.51,"g":"No"},{"x":0.21,"y":3.67,"g":"No"},{"x":0.095,"y":3.9,"g":"No"},{"x":0.05,"y":4.07,"g":"No"},{"x":0.018,"y":4.35,"g":"No"},{"x":0.007,"y":4.63,"g":"No"},{"x":0,"y":5.3,"g":"No"},{"x":0,"y":0.09,"g":"Yes"},{"x":0.01,"y":0.99,"g":"Yes"},{"x":0.025,"y":1.27,"g":"Yes"},{"x":0.09,"y":1.72,"g":"Yes"},{"x":0.19,"y":1.94,"g":"Yes"},{"x":0.33,"y":2.16,"g":"Yes"},{"x":0.455,"y":2.39,"g":"Yes"},{"x":0.58,"y":2.61,"g":"Yes"},{"x":0.66,"y":2.78,"g":"Yes"},{"x":0.685,"y":3,"g":"Yes"},{"x":0.68,"y":3.17,"g":"Yes"},{"x":0.63,"y":3.34,"g":"Yes"},{"x":0.47,"y":3.51,"g":"Yes"},{"x":0.33,"y":3.67,"g":"Yes"},{"x":0.19,"y":3.87,"g":"Yes"},{"x":0.1,"y":4.07,"g":"Yes"},{"x":0.04,"y":4.35,"g":"Yes"},{"x":0.014,"y":4.63,"g":"Yes"},{"x":0.002,"y":5.3,"g":"Yes"},{"x":0,"y":6.08,"g":"Yes"}]},"mark":{"type":"line","interpolate":"catmull-rom","strokeWidth":1.6},"encoding":{"x":{"field":"x","type":"quantitative"},"y":{"field":"y","type":"quantitative","axis":null},"order":{"field":"y"},"color":{"field":"g","type":"nominal","scale":{"domain":["No","Yes"],"range":["#2f2a7e","#f58b20"]},"legend":null}}},
{"data":{"values":[{"t":"***","x":0.524,"y":4.44}]},"mark":{"type":"text","fontSize":21,"color":"#111111"},"encoding":{"x":{"field":"x","type":"quantitative"},"y":{"field":"y","type":"quantitative","axis":null},"text":{"field":"t"}}}
]},
{"layer":[
{"data":{"values":[{"x":1},{"x":2},{"x":3},{"x":4},{"x":5},{"x":6}]},"mark":{"type":"rule","color":"#dddddd","strokeDash":[1,2]},"encoding":{"x":{"field":"x","type":"quantitative","scale":{"domain":[1,6],"range":[1287.5,1586.6],"nice":false,"zero":false},"axis":null},"y":{"datum":0,"scale":{"domain":[0,0.7],"range":[106.8,41.2],"nice":false,"zero":false},"axis":{"orient":"left","title":"Density","values":[0,0.1,0.2,0.3,0.4,0.5,0.6,0.7],"labelExpr":"round(datum.value*10)%3==0 ? format(datum.value,'.1f') : ''","labelAngle":-90,"offset":-1234,"titleY":73.4,"titlePadding":6}},"y2":{"datum":0.72}}},
{"data":{"values":[{"y":0},{"y":0.1},{"y":0.2},{"y":0.3},{"y":0.4},{"y":0.5},{"y":0.6},{"y":0.7}]},"mark":{"type":"rule","color":"#dddddd","strokeDash":[1,2]},"encoding":{"y":{"field":"y","type":"quantitative"},"x":{"datum":0.1,"axis":null},"x2":{"datum":6}}},
{"data":{"values":[{"x":0.11,"y":0,"g":"No"},{"x":1.02,"y":0.003,"g":"No"},{"x":1.32,"y":0.015,"g":"No"},{"x":1.75,"y":0.08,"g":"No"},{"x":1.93,"y":0.15,"g":"No"},{"x":2.17,"y":0.26,"g":"No"},{"x":2.42,"y":0.42,"g":"No"},{"x":2.6,"y":0.55,"g":"No"},{"x":2.81,"y":0.715,"g":"No"},{"x":2.96,"y":0.69,"g":"No"},{"x":3.14,"y":0.65,"g":"No"},{"x":3.33,"y":0.52,"g":"No"},{"x":3.51,"y":0.37,"g":"No"},{"x":3.69,"y":0.25,"g":"No"},{"x":3.93,"y":0.12,"g":"No"},{"x":4.18,"y":0.05,"g":"No"},{"x":4.42,"y":0.015,"g":"No"},{"x":4.72,"y":0.005,"g":"No"},{"x":5.33,"y":0,"g":"No"},{"x":0.96,"y":0,"g":"Yes"},{"x":1.38,"y":0.012,"g":"Yes"},{"x":1.75,"y":0.07,"g":"Yes"},{"x":1.93,"y":0.11,"g":"Yes"},{"x":2.17,"y":0.22,"g":"Yes"},{"x":2.42,"y":0.31,"g":"Yes"},{"x":2.66,"y":0.41,"g":"Yes"},{"x":2.9,"y":0.57,"g":"Yes"},{"x":3.08,"y":0.66,"g":"Yes"},{"x":3.3,"y":0.68,"g":"Yes"},{"x":3.45,"y":0.6,"g":"Yes"},{"x":3.63,"y":0.46,"g":"Yes"},{"x":3.87,"y":0.31,"g":"Yes"},{"x":4.12,"y":0.16,"g":"Yes"},{"x":4.36,"y":0.07,"g":"Yes"},{"x":4.66,"y":0.025,"g":"Yes"},{"x":4.97,"y":0.008,"g":"Yes"},{"x":6.09,"y":0,"g":"Yes"}]},"mark":{"type":"line","interpolate":"monotone","strokeWidth":1.6},"encoding":{"x":{"field":"x","type":"quantitative","axis":null},"y":{"field":"y","type":"quantitative"},"color":{"field":"g","type":"nominal","scale":{"domain":["No","Yes"],"range":["#2f2a7e","#f58b20"]},"legend":null}}},
{"data":{"values":[{"t":"SNP6 (TCGA) all samples","x":3.115,"y":0.896}]},"mark":{"type":"text","fontSize":16,"color":"#333333"},"encoding":{"x":{"field":"x","type":"quantitative","axis":null},"y":{"field":"y","type":"quantitative"},"text":{"field":"t"}}},
{"data":{"values":[{"t":"C","x":-1.365,"y":0.698}]},"mark":{"type":"text","fontSize":46,"fontWeight":"bold","baseline":"alphabetic","color":"#231f20"},"encoding":{"x":{"field":"x","type":"quantitative","axis":null},"y":{"field":"y","type":"quantitative"},"text":{"field":"t"}}},
{"data":{"values":[{"t":"***","x":4.494,"y":0.5}]},"mark":{"type":"text","fontSize":21,"color":"#111111"},"encoding":{"x":{"field":"x","type":"quantitative","axis":null},"y":{"field":"y","type":"quantitative"},"text":{"field":"t"}}}
]},
{"layer":[
{"data":{"values":[{"x":1},{"x":2},{"x":3},{"x":4},{"x":5},{"x":6}]},"mark":{"type":"rule","color":"#dddddd","strokeDash":[1,2]},"encoding":{"x":{"field":"x","type":"quantitative","scale":{"domain":[1,6],"range":[1287.5,1586.6],"nice":false,"zero":false},"axis":{"orient":"bottom","title":"MDC1 log(TPM+1)","values":[1,2,3,4,5,6],"format":"d","offset":-1322.7,"titleX":1413}},"y":{"datum":0,"scale":{"domain":[0,5],"range":[463.8,118.7],"nice":false,"zero":false},"axis":{"orient":"left","title":"CIP2A log(TPM+1)","values":[0,1,2,3,4,5],"format":"d","labelAngle":-90,"offset":-1234,"titleY":297.5,"titlePadding":6}},"y2":{"datum":5}}},
{"data":{"values":[{"y":0},{"y":1},{"y":2},{"y":3},{"y":4},{"y":5}]},"mark":{"type":"rule","color":"#dddddd","strokeDash":[1,2]},"encoding":{"y":{"field":"y","type":"quantitative"},"x":{"datum":0.1},"x2":{"datum":6}}},
{"data":{"values":[{"x":1.2,"lo":0.15,"hi":1},{"x":1.5,"lo":0.15,"hi":1.8},{"x":1.8,"lo":0.15,"hi":2.6},{"x":2.2,"lo":0.2,"hi":3},{"x":2.6,"lo":0.2,"hi":3.5},{"x":3,"lo":0.4,"hi":3.85},{"x":3.4,"lo":0.6,"hi":4},{"x":3.8,"lo":1.2,"hi":3.9},{"x":4.1,"lo":1.8,"hi":3.6},{"x":4.3,"lo":2.4,"hi":3.2}]},"mark":{"type":"area","color":"#2f2a7e","opacity":0.72,"interpolate":"monotone"},"encoding":{"x":{"field":"x","type":"quantitative"},"y":{"field":"lo","type":"quantitative"},"y2":{"field":"hi"}}},
{"data":{"values":[{"x":1.9,"lo":0.8,"hi":1.7},{"x":2.1,"lo":0.7,"hi":2.2},{"x":2.3,"lo":0.65,"hi":2.5},{"x":2.5,"lo":0.6,"hi":2.75},{"x":2.75,"lo":0.65,"hi":2.95},{"x":3,"lo":0.8,"hi":3.2},{"x":3.25,"lo":0.95,"hi":3.35},{"x":3.5,"lo":1.2,"hi":3.25},{"x":3.7,"lo":1.7,"hi":3},{"x":3.85,"lo":2.2,"hi":2.7}]},"mark":{"type":"area","color":"#2f2a7e","interpolate":"monotone"},"encoding":{"x":{"field":"x","type":"quantitative"},"y":{"field":"lo","type":"quantitative"},"y2":{"field":"hi"}}},
{"data":{"values":[{"x":0.33,"y":0.18,"g":"No"},{"x":0.51,"y":0.15,"g":"No"},{"x":0.79,"y":0.29,"g":"No"},{"x":0.82,"y":0.48,"g":"No"},{"x":0.84,"y":0.22,"g":"No"},{"x":0.93,"y":0.35,"g":"No"},{"x":0.9,"y":0.94,"g":"No"},{"x":0.88,"y":0.74,"g":"No"},{"x":1.04,"y":0.09,"g":"No"},{"x":1.14,"y":0.16,"g":"No"},{"x":1.31,"y":0.05,"g":"No"},{"x":1.47,"y":0.06,"g":"No"},{"x":1.56,"y":0.06,"g":"No"},{"x":1.72,"y":0.13,"g":"No"},{"x":1.97,"y":0.08,"g":"No"},{"x":2.15,"y":0.02,"g":"No"},{"x":2.34,"y":0.07,"g":"No"},{"x":2.63,"y":0.01,"g":"No"},{"x":2.81,"y":0.11,"g":"No"},{"x":2.85,"y":0.02,"g":"No"},{"x":2.99,"y":0.12,"g":"No"},{"x":3.11,"y":0,"g":"No"},{"x":3.21,"y":0.12,"g":"No"},{"x":3.5,"y":0.15,"g":"No"},{"x":3.78,"y":0.28,"g":"No"},{"x":3.68,"y":0.44,"g":"No"},{"x":3.92,"y":0.58,"g":"No"},{"x":4.03,"y":0.65,"g":"No"},{"x":3.66,"y":0.89,"g":"No"},{"x":3.69,"y":1.04,"g":"No"},{"x":3.75,"y":0.77,"g":"No"},{"x":4.03,"y":1.36,"g":"No"},{"x":4,"y":1.43,"g":"No"},{"x":4.21,"y":1.42,"g":"No"},{"x":4.26,"y":1.55,"g":"No"},{"x":4.44,"y":1.26,"g":"No"},{"x":4.03,"y":1.73,"g":"No"},{"x":3.9,"y":1.6,"g":"No"},{"x":4.77,"y":2.05,"g":"No"},{"x":4.27,"y":2.07,"g":"No"},{"x":4.36,"y":2.23,"g":"No"},{"x":4.24,"y":2.25,"g":"No"},{"x":4.3,"y":2.53,"g":"No"},{"x":4.27,"y":2.6,"g":"No"},{"x":4.47,"y":2.69,"g":"No"},{"x":4.39,"y":2.83,"g":"No"},{"x":4.42,"y":3.02,"g":"No"},{"x":4.38,"y":3.39,"g":"No"},{"x":4.27,"y":3.47,"g":"No"},{"x":4.38,"y":3.56,"g":"No"},{"x":4.56,"y":3.62,"g":"No"},{"x":4.56,"y":3.56,"g":"No"},{"x":4.36,"y":3.76,"g":"No"},{"x":4.41,"y":3.92,"g":"No"},{"x":4.77,"y":3.94,"g":"No"},{"x":4.99,"y":3.24,"g":"No"},{"x":5.06,"y":3.19,"g":"No"},{"x":4.29,"y":4.06,"g":"No"},{"x":4.26,"y":4.15,"g":"No"},{"x":4.23,"y":4.46,"g":"No"},{"x":4.29,"y":4.33,"g":"No"},{"x":4.15,"y":4.35,"g":"No"},{"x":4.12,"y":4.27,"g":"No"},{"x":4.1,"y":4.68,"g":"No"},{"x":3.92,"y":4.81,"g":"No"},{"x":3.79,"y":4.41,"g":"No"},{"x":3.92,"y":4.24,"g":"No"},{"x":3.57,"y":4.31,"g":"No"},{"x":3.61,"y":4.24,"g":"No"},{"x":3.44,"y":4.25,"g":"No"},{"x":3.27,"y":4.17,"g":"No"},{"x":3.44,"y":4.14,"g":"No"},{"x":3.3,"y":4.08,"g":"No"},{"x":3.08,"y":4.06,"g":"No"},{"x":2.98,"y":3.94,"g":"No"},{"x":2.87,"y":3.76,"g":"No"},{"x":2.63,"y":3.71,"g":"No"},{"x":2.78,"y":3.66,"g":"No"},{"x":2.54,"y":3.44,"g":"No"},{"x":2.61,"y":3.47,"g":"No"},{"x":2.39,"y":3.6,"g":"No"},{"x":2.02,"y":3.61,"g":"No"},{"x":2.17,"y":3.45,"g":"No"},{"x":2.09,"y":3.41,"g":"No"},{"x":1.88,"y":3.47,"g":"No"},{"x":1.47,"y":3.61,"g":"No"},{"x":1.6,"y":3.29,"g":"No"},{"x":2.29,"y":3.3,"g":"No"},{"x":2.42,"y":3.22,"g":"No"},{"x":1.57,"y":3.07,"g":"No"},{"x":1.87,"y":3.1,"g":"No"},{"x":2.19,"y":3,"g":"No"},{"x":1.58,"y":2.94,"g":"No"},{"x":1.6,"y":2.85,"g":"No"},{"x":2.05,"y":2.9,"g":"No"},{"x":1.93,"y":2.85,"g":"No"},{"x":1.7,"y":2.73,"g":"No"},{"x":1.41,"y":2.63,"g":"No"},{"x":1.64,"y":2.57,"g":"No"},{"x":1.87,"y":2.56,"g":"No"},{"x":1.14,"y":2.31,"g":"No"},{"x":1.6,"y":2.39,"g":"No"},{"x":1.72,"y":2.35,"g":"No"},{"x":1.44,"y":2.22,"g":"No"},{"x":1.41,"y":2.13,"g":"No"},{"x":1.49,"y":2.09,"g":"No"},{"x":1.72,"y":2.17,"g":"No"},{"x":1.5,"y":1.9,"g":"No"},{"x":1.58,"y":1.82,"g":"No"},{"x":1.22,"y":1.85,"g":"No"},{"x":1.14,"y":1.75,"g":"No"},{"x":1.25,"y":1.7,"g":"No"},{"x":1.28,"y":1.62,"g":"No"},{"x":1.44,"y":1.68,"g":"No"},{"x":1.61,"y":1.74,"g":"No"},{"x":1.27,"y":1.46,"g":"No"},{"x":1.58,"y":1.56,"g":"No"},{"x":1.44,"y":1.41,"g":"No"},{"x":1.52,"y":1.26,"g":"No"},{"x":1.39,"y":1.11,"g":"No"},{"x":1.29,"y":1.09,"g":"No"},{"x":1.17,"y":1.01,"g":"No"},{"x":1.09,"y":0.94,"g":"No"},{"x":1.14,"y":0.72,"g":"No"},{"x":1.26,"y":0.79,"g":"No"},{"x":1.38,"y":0.84,"g":"No"},{"x":1.08,"y":0.57,"g":"No"},{"x":1.02,"y":0.48,"g":"No"},{"x":1.2,"y":0.48,"g":"No"},{"x":1.2,"y":0.3,"g":"No"},{"x":1.44,"y":0.35,"g":"No"},{"x":1.69,"y":0.25,"g":"No"},{"x":1.93,"y":0.21,"g":"No"},{"x":2.17,"y":0.23,"g":"No"},{"x":2.48,"y":0.25,"g":"No"},{"x":2.72,"y":0.35,"g":"No"},{"x":2.96,"y":0.4,"g":"No"},{"x":3.27,"y":0.3,"g":"No"},{"x":3.39,"y":0.5,"g":"No"},{"x":3.57,"y":0.5,"g":"No"},{"x":3.45,"y":0.65,"g":"No"},{"x":3.51,"y":1.04,"g":"No"},{"x":3.75,"y":1.24,"g":"No"},{"x":3.9,"y":1.14,"g":"No"},{"x":3.87,"y":1.43,"g":"No"},{"x":4.06,"y":1.82,"g":"No"},{"x":4.12,"y":2.07,"g":"No"},{"x":4.15,"y":2.41,"g":"No"},{"x":4.18,"y":2.8,"g":"No"},{"x":4.27,"y":3.1,"g":"No"},{"x":4.12,"y":3.54,"g":"No"},{"x":4.06,"y":3.78,"g":"No"},{"x":3.75,"y":4.03,"g":"No"},{"x":3.51,"y":3.88,"g":"No"},{"x":2.9,"y":3.59,"g":"No"},{"x":2.66,"y":3.2,"g":"No"},{"x":2.42,"y":2.9,"g":"No"},{"x":2.17,"y":2.66,"g":"No"},{"x":1.99,"y":2.31,"g":"No"},{"x":1.81,"y":1.82,"g":"No"},{"x":1.75,"y":1.33,"g":"No"},{"x":1.69,"y":0.94,"g":"No"},{"x":1.99,"y":0.55,"g":"No"},{"x":2.29,"y":0.4,"g":"No"},{"x":1.44,"y":0.65,"g":"No"},{"x":1.63,"y":0.45,"g":"No"},{"x":5.87,"y":2.51,"g":"Yes"},{"x":2.9,"y":4.28,"g":"Yes"},{"x":3.47,"y":4.35,"g":"Yes"},{"x":2.71,"y":3.94,"g":"Yes"},{"x":4.33,"y":4.03,"g":"Yes"},{"x":4.53,"y":3.87,"g":"Yes"},{"x":4.71,"y":3.57,"g":"Yes"},{"x":4.26,"y":3.68,"g":"Yes"},{"x":4.45,"y":3.25,"g":"Yes"},{"x":4.59,"y":3.18,"g":"Yes"},{"x":4.45,"y":2.94,"g":"Yes"},{"x":4.58,"y":2.76,"g":"Yes"},{"x":4.75,"y":2.68,"g":"Yes"},{"x":4.39,"y":2.75,"g":"Yes"},{"x":4.37,"y":2.11,"g":"Yes"},{"x":4.15,"y":1.86,"g":"Yes"},{"x":4.77,"y":1.44,"g":"Yes"},{"x":4.07,"y":0.99,"g":"Yes"},{"x":3.86,"y":0.78,"g":"Yes"},{"x":3.99,"y":0.43,"g":"Yes"},{"x":4.14,"y":0.39,"g":"Yes"},{"x":3.71,"y":0.57,"g":"Yes"},{"x":3.69,"y":0.45,"g":"Yes"},{"x":3.57,"y":0.83,"g":"Yes"},{"x":3.61,"y":0.87,"g":"Yes"},{"x":3.28,"y":0.76,"g":"Yes"},{"x":3.39,"y":0.61,"g":"Yes"},{"x":1.47,"y":2.28,"g":"Yes"},{"x":1.67,"y":2.25,"g":"Yes"},{"x":1.3,"y":1.79,"g":"Yes"},{"x":1.56,"y":2.13,"g":"Yes"},{"x":1.09,"y":0.89,"g":"Yes"},{"x":1.67,"y":2.66,"g":"Yes"},{"x":2.22,"y":3.05,"g":"Yes"},{"x":2.25,"y":2.94,"g":"Yes"},{"x":2.69,"y":3.49,"g":"Yes"},{"x":3.27,"y":3.81,"g":"Yes"},{"x":3.33,"y":3.55,"g":"Yes"},{"x":3.66,"y":2.66,"g":"Yes"},{"x":3.69,"y":2.62,"g":"Yes"},{"x":2.72,"y":0.48,"g":"Yes"},{"x":2.75,"y":0.33,"g":"Yes"},{"x":2.63,"y":0.18,"g":"Yes"},{"x":2.69,"y":0.18,"g":"Yes"},{"x":2.32,"y":1.04,"g":"Yes"},{"x":2.1,"y":0.89,"g":"Yes"},{"x":2.11,"y":0.75,"g":"Yes"},{"x":1.6,"y":0.72,"g":"Yes"},{"x":1.5,"y":0.4,"g":"Yes"},{"x":2.02,"y":0.35,"g":"Yes"},{"x":1.99,"y":1.75,"g":"Yes"},{"x":2.63,"y":1.82,"g":"Yes"},{"x":2.23,"y":1.53,"g":"Yes"},{"x":2.66,"y":1.58,"g":"Yes"},{"x":2.96,"y":1.33,"g":"Yes"},{"x":3.21,"y":1.19,"g":"Yes"},{"x":3.51,"y":1.19,"g":"Yes"},{"x":2.9,"y":1.24,"g":"Yes"},{"x":3.08,"y":1.73,"g":"Yes"},{"x":3.02,"y":1.97,"g":"Yes"},{"x":3.17,"y":2.02,"g":"Yes"},{"x":2.66,"y":2.26,"g":"Yes"},{"x":2.96,"y":2.26,"g":"Yes"},{"x":3.33,"y":2.46,"g":"Yes"},{"x":2.48,"y":2.51,"g":"Yes"},{"x":2.78,"y":2.61,"g":"Yes"},{"x":3.14,"y":2.66,"g":"Yes"},{"x":3.08,"y":2.95,"g":"Yes"},{"x":2.9,"y":2.95,"g":"Yes"},{"x":3.45,"y":2.85,"g":"Yes"},{"x":3.66,"y":2.85,"g":"Yes"},{"x":3.78,"y":2.41,"g":"Yes"},{"x":3.81,"y":1.73,"g":"Yes"},{"x":3.87,"y":2.22,"g":"Yes"},{"x":3.63,"y":1.63,"g":"Yes"}]},"mark":{"type":"point","filled":false,"size":34,"strokeWidth":1.3},"encoding":{"x":{"field":"x","type":"quantitative"},"y":{"field":"y","type":"quantitative"},"color":{"field":"g","type":"nominal","scale":{"domain":["No","Yes"],"range":["#2f2a7e","#f58b20"]},"legend":{"title":"Chromothrip.","orient":"none","legendX":1598,"legendY":43,"symbolType":"square","symbolSize":16,"symbolStrokeWidth":3,"symbolOffset":17,"titleFontSize":11.3,"labelFontSize":12,"rowPadding":1,"labelOffset":4}}}}
]},
{"layer":[
{"data":{"values":[{"x":0},{"x":0.1},{"x":0.2},{"x":0.3},{"x":0.4},{"x":0.5}]},"mark":{"type":"rule","color":"#dddddd","strokeDash":[1,2]},"encoding":{"x":{"field":"x","type":"quantitative","scale":{"domain":[0,0.5],"range":[1604.5,1666.6],"nice":false,"zero":false},"axis":{"orient":"bottom","title":"Density","values":[0,0.1,0.2,0.3,0.4,0.5],"labelExpr":"round(datum.value*10)%3==0 ? format(datum.value,'.1f') : ''","offset":-1322.7}},"y":{"datum":0,"scale":{"domain":[0,5],"range":[463.8,118.7],"nice":false,"zero":false},"axis":null},"y2":{"datum":5}}},
{"data":{"values":[{"x":0,"y":0,"g":"No"},{"x":0.047,"y":0.25,"g":"No"},{"x":0.105,"y":0.5,"g":"No"},{"x":0.163,"y":0.75,"g":"No"},{"x":0.25,"y":0.94,"g":"No"},{"x":0.35,"y":1.19,"g":"No"},{"x":0.39,"y":1.43,"g":"No"},{"x":0.4,"y":1.82,"g":"No"},{"x":0.4,"y":2.31,"g":"No"},{"x":0.38,"y":2.56,"g":"No"},{"x":0.31,"y":2.8,"g":"No"},{"x":0.22,"y":3,"g":"No"},{"x":0.13,"y":3.29,"g":"No"},{"x":0.06,"y":3.59,"g":"No"},{"x":0.026,"y":3.88,"g":"No"},{"x":0.006,"y":4.27,"g":"No"},{"x":0,"y":5,"g":"No"},{"x":0,"y":0,"g":"Yes"},{"x":0.017,"y":0.25,"g":"Yes"},{"x":0.06,"y":0.5,"g":"Yes"},{"x":0.12,"y":0.75,"g":"Yes"},{"x":0.18,"y":0.94,"g":"Yes"},{"x":0.25,"y":1.19,"g":"Yes"},{"x":0.35,"y":1.43,"g":"Yes"},{"x":0.4,"y":1.68,"g":"Yes"},{"x":0.44,"y":1.92,"g":"Yes"},{"x":0.5,"y":2.17,"g":"Yes"},{"x":0.53,"y":2.36,"g":"Yes"},{"x":0.52,"y":2.51,"g":"Yes"},{"x":0.5,"y":2.71,"g":"Yes"},{"x":0.38,"y":2.85,"g":"Yes"},{"x":0.265,"y":3,"g":"Yes"},{"x":0.163,"y":3.2,"g":"Yes"},{"x":0.06,"y":3.59,"g":"Yes"},{"x":0.026,"y":3.88,"g":"Yes"},{"x":0.006,"y":4.27,"g":"Yes"},{"x":0,"y":5,"g":"Yes"}]},"mark":{"type":"line","interpolate":"catmull-rom","strokeWidth":1.6},"encoding":{"x":{"field":"x","type":"quantitative"},"y":{"field":"y","type":"quantitative","axis":null},"order":{"field":"y"},"color":{"field":"g","type":"nominal","scale":{"domain":["No","Yes"],"range":["#2f2a7e","#f58b20"]},"legend":null}}},
{"data":{"values":[{"t":"***","x":0.401,"y":3.56}]},"mark":{"type":"text","fontSize":21,"color":"#111111"},"encoding":{"x":{"field":"x","type":"quantitative"},"y":{"field":"y","type":"quantitative","axis":null},"text":{"field":"t"}}}
]},
{"layer":[
{"data":{"values":[{"x":1},{"x":2},{"x":3},{"x":4},{"x":5},{"x":6},{"x":7}]},"mark":{"type":"rule","color":"#dddddd","strokeDash":[1,2]},"encoding":{"x":{"field":"x","type":"quantitative","scale":{"domain":[1,7],"range":[119,479.1],"nice":false,"zero":false},"axis":null},"y":{"datum":0,"scale":{"domain":[0,0.4],"range":[700.7,640.4],"nice":false,"zero":false},"axis":{"orient":"left","title":"Density","values":[0,0.1,0.2,0.3,0.4],"labelExpr":"round(datum.value*10)%2==0 ? format(datum.value,'.1f') : ''","labelAngle":-90,"offset":-102.2,"titlePadding":9}},"y2":{"datum":0.42}}},
{"data":{"values":[{"y":0},{"y":0.1},{"y":0.2},{"y":0.3},{"y":0.4}]},"mark":{"type":"rule","color":"#dddddd","strokeDash":[1,2]},"encoding":{"y":{"field":"y","type":"quantitative"},"x":{"datum":0.72,"axis":null},"x2":{"datum":7.1}}},
{"data":{"values":[{"x":0.69,"y":0,"g":"No"},{"x":1,"y":0.01,"g":"No"},{"x":1.57,"y":0.015,"g":"No"},{"x":1.89,"y":0.03,"g":"No"},{"x":2.21,"y":0.07,"g":"No"},{"x":2.52,"y":0.11,"g":"No"},{"x":2.84,"y":0.13,"g":"No"},{"x":3.16,"y":0.17,"g":"No"},{"x":3.48,"y":0.27,"g":"No"},{"x":3.8,"y":0.34,"g":"No"},{"x":4.05,"y":0.37,"g":"No"},{"x":4.37,"y":0.365,"g":"No"},{"x":4.76,"y":0.35,"g":"No"},{"x":5.08,"y":0.31,"g":"No"},{"x":5.39,"y":0.23,"g":"No"},{"x":5.71,"y":0.16,"g":"No"},{"x":6.03,"y":0.1,"g":"No"},{"x":6.35,"y":0.05,"g":"No"},{"x":6.67,"y":0.025,"g":"No"},{"x":7.1,"y":0.01,"g":"No"},{"x":1.33,"y":0,"g":"Yes"},{"x":1.89,"y":0.01,"g":"Yes"},{"x":2.21,"y":0.03,"g":"Yes"},{"x":2.52,"y":0.07,"g":"Yes"},{"x":2.84,"y":0.095,"g":"Yes"},{"x":3.16,"y":0.12,"g":"Yes"},{"x":3.48,"y":0.2,"g":"Yes"},{"x":3.8,"y":0.31,"g":"Yes"},{"x":4.05,"y":0.37,"g":"Yes"},{"x":4.37,"y":0.41,"g":"Yes"},{"x":4.63,"y":0.4,"g":"Yes"},{"x":4.95,"y":0.38,"g":"Yes"},{"x":5.27,"y":0.35,"g":"Yes"},{"x":5.59,"y":0.26,"g":"Yes"},{"x":5.9,"y":0.18,"g":"Yes"},{"x":6.22,"y":0.09,"g":"Yes"},{"x":6.54,"y":0.04,"g":"Yes"},{"x":7.1,"y":0,"g":"Yes"}]},"mark":{"type":"line","interpolate":"monotone","strokeWidth":1.6},"encoding":{"x":{"field":"x","type":"quantitative","axis":null},"y":{"field":"y","type":"quantitative"},"color":{"field":"g","type":"nominal","scale":{"domain":["No","Yes"],"range":["#2f2a7e","#f58b20"]},"legend":null}}},
{"data":{"values":[{"t":"WGS (PCAWG) all samples","x":4.183,"y":0.592}]},"mark":{"type":"text","fontSize":16,"color":"#333333"},"encoding":{"x":{"field":"x","type":"quantitative","axis":null},"y":{"field":"y","type":"quantitative"},"text":{"field":"t"}}},
{"data":{"values":[{"t":"D","x":-0.633,"y":0.575}]},"mark":{"type":"text","fontSize":46,"fontWeight":"bold","baseline":"alphabetic","color":"#231f20"},"encoding":{"x":{"field":"x","type":"quantitative","axis":null},"y":{"field":"y","type":"quantitative"},"text":{"field":"t"}}},
{"data":{"values":[{"t":"*","x":6.56,"y":0.28}]},"mark":{"type":"text","fontSize":21,"color":"#111111"},"encoding":{"x":{"field":"x","type":"quantitative","axis":null},"y":{"field":"y","type":"quantitative"},"text":{"field":"t"}}}
]},
{"layer":[
{"data":{"values":[{"x":1},{"x":2},{"x":3},{"x":4},{"x":5},{"x":6},{"x":7}]},"mark":{"type":"rule","color":"#dddddd","strokeDash":[1,2]},"encoding":{"x":{"field":"x","type":"quantitative","scale":{"domain":[1,7],"range":[119,479.1],"nice":false,"zero":false},"axis":{"orient":"bottom","title":"TOPBP1 expression: log2(TPM+1)","values":[1,2,3,4,5,6,7],"format":"d","offset":-704,"titleX":293,"titlePadding":6}},"y":{"datum":-0.1,"scale":{"domain":[0,6],"range":[1082.1,742.9],"nice":false,"zero":false},"axis":{"orient":"left","title":"CIP2A expression: log2(TPM+1)","values":[0,1,2,3,4,5,6],"format":"d","labelAngle":-90,"offset":-102.2,"titleY":904,"titlePadding":9}},"y2":{"datum":6.6}}},
{"data":{"values":[{"y":0},{"y":1},{"y":2},{"y":3},{"y":4},{"y":5},{"y":6}]},"mark":{"type":"rule","color":"#dddddd","strokeDash":[1,2]},"encoding":{"y":{"field":"y","type":"quantitative"},"x":{"datum":0.72},"x2":{"datum":7.1}}},
{"data":{"values":[{"x":0.95,"y":0,"g":"No"},{"x":1.17,"y":0.21,"g":"No"},{"x":1.27,"y":0.75,"g":"No"},{"x":1.38,"y":0.44,"g":"No"},{"x":1.4,"y":0.32,"g":"No"},{"x":1.58,"y":0.19,"g":"No"},{"x":1.71,"y":0.61,"g":"No"},{"x":1.92,"y":0.35,"g":"No"},{"x":2.03,"y":0.52,"g":"No"},{"x":2,"y":0.87,"g":"No"},{"x":2.07,"y":0.81,"g":"No"},{"x":2.13,"y":0.34,"g":"No"},{"x":2.26,"y":0.49,"g":"No"},{"x":2.35,"y":0.28,"g":"No"},{"x":2.35,"y":0.52,"g":"No"},{"x":2.35,"y":0.43,"g":"No"},{"x":2.77,"y":0.35,"g":"No"},{"x":2.96,"y":0.54,"g":"No"},{"x":3.02,"y":0.68,"g":"No"},{"x":3.02,"y":0.84,"g":"No"},{"x":2.75,"y":0.76,"g":"No"},{"x":2.91,"y":0.76,"g":"No"},{"x":2.62,"y":0.61,"g":"No"},{"x":2.49,"y":0.75,"g":"No"},{"x":2.58,"y":0.78,"g":"No"},{"x":3.6,"y":0.87,"g":"No"},{"x":3.48,"y":0.99,"g":"No"},{"x":3.32,"y":1.01,"g":"No"},{"x":3.19,"y":0.95,"g":"No"},{"x":3.86,"y":0.71,"g":"No"},{"x":3.78,"y":1.05,"g":"No"},{"x":3.7,"y":1.25,"g":"No"},{"x":2.33,"y":0.87,"g":"No"},{"x":2.3,"y":0.95,"g":"No"},{"x":2.46,"y":0.95,"g":"No"},{"x":2.6,"y":0.99,"g":"No"},{"x":2.4,"y":1.14,"g":"No"},{"x":2.49,"y":1.26,"g":"No"},{"x":2.21,"y":1.5,"g":"No"},{"x":2.38,"y":1.41,"g":"No"},{"x":2.6,"y":1.5,"g":"No"},{"x":2.66,"y":1.5,"g":"No"},{"x":2.66,"y":1.35,"g":"No"},{"x":2.7,"y":1.22,"g":"No"},{"x":2.91,"y":1.09,"g":"No"},{"x":2.87,"y":1.03,"g":"No"},{"x":2.98,"y":1.25,"g":"No"},{"x":3.02,"y":1.38,"g":"No"},{"x":3.1,"y":1.36,"g":"No"},{"x":2.92,"y":1.55,"g":"No"},{"x":2.84,"y":1.41,"g":"No"},{"x":2.78,"y":2.47,"g":"No"},{"x":2.88,"y":2.2,"g":"No"},{"x":2.93,"y":2.21,"g":"No"},{"x":3,"y":2.25,"g":"No"},{"x":2.86,"y":1.95,"g":"No"},{"x":2.88,"y":1.85,"g":"No"},{"x":3,"y":1.91,"g":"No"},{"x":3.05,"y":2.5,"g":"No"},{"x":3.04,"y":2.94,"g":"No"},{"x":3.23,"y":2.16,"g":"No"},{"x":3.3,"y":2.17,"g":"No"},{"x":3.56,"y":2.15,"g":"No"},{"x":3.64,"y":2.07,"g":"No"},{"x":3.39,"y":1.91,"g":"No"},{"x":3.45,"y":1.91,"g":"No"},{"x":3.42,"y":1.71,"g":"No"},{"x":3.54,"y":1.63,"g":"No"},{"x":3.23,"y":1.63,"g":"No"},{"x":3.13,"y":1.62,"g":"No"},{"x":3.29,"y":1.47,"g":"No"},{"x":3.42,"y":1.41,"g":"No"},{"x":3.35,"y":1.25,"g":"No"},{"x":3.42,"y":1.19,"g":"No"},{"x":3.64,"y":1.63,"g":"No"},{"x":3.74,"y":1.57,"g":"No"},{"x":3.74,"y":1.44,"g":"No"},{"x":3.77,"y":1.35,"g":"No"},{"x":3.86,"y":1.47,"g":"No"},{"x":3.99,"y":1.36,"g":"No"},{"x":4.07,"y":1.31,"g":"No"},{"x":3.88,"y":1.28,"g":"No"},{"x":4.31,"y":1.44,"g":"No"},{"x":4.34,"y":1.63,"g":"No"},{"x":4.12,"y":1.6,"g":"No"},{"x":4.34,"y":1.72,"g":"No"},{"x":4.51,"y":1.8,"g":"No"},{"x":4.55,"y":1.95,"g":"No"},{"x":4.63,"y":2.01,"g":"No"},{"x":4.76,"y":1.91,"g":"No"},{"x":4.85,"y":2.06,"g":"No"},{"x":4.87,"y":2.2,"g":"No"},{"x":5.04,"y":2.22,"g":"No"},{"x":5.09,"y":2.39,"g":"No"},{"x":4.98,"y":2.48,"g":"No"},{"x":4.77,"y":2.44,"g":"No"},{"x":4.68,"y":2.48,"g":"No"},{"x":4.57,"y":2.51,"g":"No"},{"x":4.44,"y":2.25,"g":"No"},{"x":4.6,"y":2.31,"g":"No"},{"x":4.87,"y":2.29,"g":"No"},{"x":4.2,"y":1.76,"g":"No"},{"x":3.99,"y":1.95,"g":"No"},{"x":3.86,"y":1.91,"g":"No"},{"x":3.77,"y":1.95,"g":"No"},{"x":4.05,"y":1.91,"g":"No"},{"x":4.12,"y":2.01,"g":"No"},{"x":4.25,"y":1.88,"g":"No"},{"x":3.58,"y":1.85,"g":"No"},{"x":3.67,"y":1.79,"g":"No"},{"x":3.74,"y":1.95,"g":"No"},{"x":3.86,"y":2.2,"g":"No"},{"x":3.99,"y":2.07,"g":"No"},{"x":4.18,"y":2.1,"g":"No"},{"x":4.31,"y":2.2,"g":"No"},{"x":3.8,"y":2.39,"g":"No"},{"x":3.93,"y":2.36,"g":"No"},{"x":4.12,"y":2.39,"g":"No"},{"x":4.31,"y":2.48,"g":"No"},{"x":4.41,"y":2.48,"g":"No"},{"x":3.96,"y":2.64,"g":"No"},{"x":4.18,"y":2.74,"g":"No"},{"x":4.31,"y":2.77,"g":"No"},{"x":4.44,"y":2.67,"g":"No"},{"x":4.63,"y":2.66,"g":"No"},{"x":4.79,"y":2.83,"g":"No"},{"x":4.92,"y":2.8,"g":"No"},{"x":5.11,"y":2.77,"g":"No"},{"x":5.27,"y":2.74,"g":"No"},{"x":5.39,"y":2.75,"g":"No"},{"x":5.45,"y":2.83,"g":"No"},{"x":5.49,"y":3.03,"g":"No"},{"x":5.43,"y":3.37,"g":"No"},{"x":5.52,"y":3.43,"g":"No"},{"x":5.65,"y":3.3,"g":"No"},{"x":5.76,"y":3.23,"g":"No"},{"x":5.78,"y":3.41,"g":"No"},{"x":5.65,"y":3.75,"g":"No"},{"x":5.97,"y":3.84,"g":"No"},{"x":5.65,"y":3.97,"g":"No"},{"x":5.78,"y":4.06,"g":"No"},{"x":6.11,"y":4.06,"g":"No"},{"x":6.16,"y":4,"g":"No"},{"x":6.32,"y":4.06,"g":"No"},{"x":6.84,"y":4,"g":"No"},{"x":6.86,"y":4.18,"g":"No"},{"x":6.33,"y":4.3,"g":"No"},{"x":6.21,"y":4.3,"g":"No"},{"x":6.17,"y":4.38,"g":"No"},{"x":5.97,"y":4.44,"g":"No"},{"x":6.03,"y":4.66,"g":"No"},{"x":6.19,"y":4.54,"g":"No"},{"x":6.16,"y":4.63,"g":"No"},{"x":6.34,"y":4.88,"g":"No"},{"x":6.15,"y":4.87,"g":"No"},{"x":6.19,"y":5.07,"g":"No"},{"x":5.97,"y":5,"g":"No"},{"x":5.78,"y":4.82,"g":"No"},{"x":5.71,"y":4.91,"g":"No"},{"x":5.49,"y":4.87,"g":"No"},{"x":5.59,"y":4.73,"g":"No"},{"x":6.51,"y":5.26,"g":"No"},{"x":6.22,"y":5.45,"g":"No"},{"x":6.73,"y":5.46,"g":"No"},{"x":6.7,"y":5.84,"g":"No"},{"x":6.78,"y":5.89,"g":"No"},{"x":6.24,"y":5.67,"g":"No"},{"x":6.27,"y":5.51,"g":"No"},{"x":5.75,"y":6.27,"g":"No"},{"x":5.25,"y":5.84,"g":"No"},{"x":5.23,"y":5.64,"g":"No"},{"x":4.44,"y":5.48,"g":"No"},{"x":5.71,"y":5.34,"g":"No"},{"x":5.78,"y":5.29,"g":"No"},{"x":5.52,"y":5.21,"g":"No"},{"x":5.55,"y":5.12,"g":"No"},{"x":4.69,"y":5.01,"g":"No"},{"x":4.78,"y":5.06,"g":"No"},{"x":5.64,"y":5.2,"g":"No"},{"x":4.92,"y":4.74,"g":"No"},{"x":5.01,"y":4.59,"g":"No"},{"x":5.31,"y":4.66,"g":"No"},{"x":5.43,"y":4.58,"g":"No"},{"x":5.55,"y":4.63,"g":"No"},{"x":4.18,"y":4.37,"g":"No"},{"x":4.57,"y":4.33,"g":"No"},{"x":4.76,"y":4.42,"g":"No"},{"x":4.85,"y":4.33,"g":"No"},{"x":5.14,"y":4.4,"g":"No"},{"x":5.3,"y":4.28,"g":"No"},{"x":5.39,"y":4.31,"g":"No"},{"x":5.74,"y":4.31,"g":"No"},{"x":5.84,"y":4.28,"g":"No"},{"x":4.31,"y":4.14,"g":"No"},{"x":4.53,"y":3.94,"g":"No"},{"x":3.92,"y":3.92,"g":"No"},{"x":4.25,"y":3.94,"g":"No"},{"x":4.31,"y":3.9,"g":"No"},{"x":4.66,"y":4.11,"g":"No"},{"x":4.72,"y":4.13,"g":"No"},{"x":4.88,"y":4.06,"g":"No"},{"x":5.04,"y":4.09,"g":"No"},{"x":5.17,"y":4.16,"g":"No"},{"x":5.33,"y":4.09,"g":"No"},{"x":5.49,"y":4.16,"g":"No"},{"x":5.59,"y":3.94,"g":"No"},{"x":5.43,"y":3.71,"g":"No"},{"x":5.23,"y":3.71,"g":"No"},{"x":5.14,"y":3.46,"g":"No"},{"x":4.95,"y":3.59,"g":"No"},{"x":4.72,"y":3.65,"g":"No"},{"x":4.57,"y":3.71,"g":"No"},{"x":4.76,"y":3.34,"g":"No"},{"x":4.95,"y":3.34,"g":"No"},{"x":5.08,"y":3.27,"g":"No"},{"x":5.04,"y":3.05,"g":"No"},{"x":4.82,"y":3.08,"g":"No"},{"x":4.63,"y":3.05,"g":"No"},{"x":4.44,"y":3.27,"g":"No"},{"x":4.31,"y":3.56,"g":"No"},{"x":4.12,"y":3.46,"g":"No"},{"x":4.15,"y":3.3,"g":"No"},{"x":4.25,"y":3.15,"g":"No"},{"x":4.05,"y":3.11,"g":"No"},{"x":3.93,"y":2.99,"g":"No"},{"x":3.74,"y":3.49,"g":"No"},{"x":3.91,"y":3.52,"g":"No"},{"x":3.53,"y":3.37,"g":"No"},{"x":3.77,"y":3.24,"g":"No"},{"x":3.88,"y":3.11,"g":"No"},{"x":3.61,"y":2.86,"g":"No"},{"x":3.77,"y":2.92,"g":"No"},{"x":3.42,"y":2.75,"g":"No"},{"x":3.48,"y":2.61,"g":"No"},{"x":3.45,"y":2.43,"g":"No"},{"x":3.77,"y":2.51,"g":"No"},{"x":3.83,"y":2.55,"g":"No"},{"x":4.21,"y":2.89,"g":"No"},{"x":4.41,"y":2.99,"g":"No"},{"x":4.5,"y":3.15,"g":"No"},{"x":4.92,"y":3.81,"g":"No"},{"x":5.04,"y":3.84,"g":"No"},{"x":5.17,"y":3.9,"g":"No"},{"x":4.82,"y":3.84,"g":"No"},{"x":4.69,"y":3.68,"g":"No"},{"x":5.39,"y":3.34,"g":"No"},{"x":5.14,"y":3.84,"g":"No"},{"x":5.27,"y":4.28,"g":"No"},{"x":3.6,"y":2.3,"g":"No"},{"x":3.7,"y":2.45,"g":"No"},{"x":3.9,"y":2.7,"g":"No"},{"x":4,"y":2.85,"g":"No"},{"x":4.1,"y":2.6,"g":"No"},{"x":4.2,"y":2.5,"g":"No"},{"x":4.05,"y":2.3,"g":"No"},{"x":4.25,"y":2.35,"g":"No"},{"x":4.35,"y":2.6,"g":"No"},{"x":4.5,"y":2.7,"g":"No"},{"x":4.55,"y":2.85,"g":"No"},{"x":4.3,"y":2.95,"g":"No"},{"x":4.15,"y":3,"g":"No"},{"x":4.35,"y":3.1,"g":"No"},{"x":4.55,"y":3.2,"g":"No"},{"x":4.7,"y":3.2,"g":"No"},{"x":4.85,"y":3.2,"g":"No"},{"x":4.9,"y":3.4,"g":"No"},{"x":5,"y":3.5,"g":"No"},{"x":4.8,"y":3.5,"g":"No"},{"x":4.6,"y":3.5,"g":"No"},{"x":4.45,"y":3.45,"g":"No"},{"x":4.35,"y":3.75,"g":"No"},{"x":4.5,"y":3.85,"g":"No"},{"x":4.7,"y":3.9,"g":"No"},{"x":4.85,"y":3.95,"g":"No"},{"x":5,"y":3.95,"g":"No"},{"x":5.1,"y":4,"g":"No"},{"x":5.25,"y":3.95,"g":"No"},{"x":5.35,"y":3.9,"g":"No"},{"x":5.45,"y":3.95,"g":"No"},{"x":5.55,"y":4.05,"g":"No"},{"x":5.1,"y":4.3,"g":"No"},{"x":5,"y":4.25,"g":"No"},{"x":4.9,"y":4.2,"g":"No"},{"x":5.2,"y":3.6,"g":"No"},{"x":5.3,"y":3.5,"g":"No"},{"x":5.05,"y":3.7,"g":"No"},{"x":5.35,"y":4.2,"g":"No"},{"x":5.65,"y":4.3,"g":"No"},{"x":5.7,"y":3.75,"g":"No"},{"x":5.6,"y":3.4,"g":"No"},{"x":3.3,"y":1.8,"g":"No"},{"x":3.5,"y":1.9,"g":"No"},{"x":3.6,"y":2,"g":"No"},{"x":3.75,"y":2.15,"g":"No"},{"x":3.9,"y":2.1,"g":"No"},{"x":4,"y":1.75,"g":"No"},{"x":4.1,"y":1.85,"g":"No"},{"x":3.9,"y":1.75,"g":"No"},{"x":3.7,"y":1.7,"g":"No"},{"x":3.55,"y":1.5,"g":"No"},{"x":3.45,"y":1.55,"g":"No"},{"x":3.3,"y":1.35,"g":"No"},{"x":3.15,"y":1.2,"g":"No"},{"x":3.05,"y":1.05,"g":"No"},{"x":3.2,"y":1.45,"g":"No"},{"x":2.85,"y":1.25,"g":"No"},{"x":2.75,"y":1.1,"g":"No"},{"x":2.6,"y":1.2,"g":"No"},{"x":2.5,"y":1.05,"g":"No"},{"x":2.4,"y":0.95,"g":"No"},{"x":4.2,"y":2.2,"g":"No"},{"x":4.4,"y":2.1,"g":"No"},{"x":4.5,"y":2.15,"g":"No"},{"x":4.65,"y":2.2,"g":"No"},{"x":4.75,"y":2.1,"g":"No"},{"x":3.95,"y":2.9,"g":"No"},{"x":3.85,"y":2.95,"g":"No"},{"x":3.7,"y":2.75,"g":"No"},{"x":3.6,"y":2.6,"g":"No"},{"x":3.55,"y":2.4,"g":"No"},{"x":4.05,"y":3.25,"g":"No"},{"x":4.2,"y":3.55,"g":"No"},{"x":4,"y":3.65,"g":"No"},{"x":3.85,"y":3.4,"g":"No"},{"x":4.45,"y":3.6,"g":"No"},{"x":4.55,"y":3.65,"g":"No"},{"x":4.6,"y":4,"g":"No"},{"x":4.4,"y":4.05,"g":"No"},{"x":4.65,"y":3.35,"g":"No"},{"x":5,"y":2.9,"g":"No"},{"x":5.2,"y":3.05,"g":"No"},{"x":5.3,"y":3.15,"g":"No"},{"x":5.15,"y":3.25,"g":"No"},{"x":5.05,"y":3.15,"g":"No"},{"x":4.9,"y":3,"g":"No"},{"x":4.7,"y":2.95,"g":"No"},{"x":4.55,"y":2.45,"g":"No"},{"x":4.4,"y":2.35,"g":"No"},{"x":6.36,"y":5.84,"g":"Yes"},{"x":6.24,"y":5.5,"g":"Yes"},{"x":5.32,"y":5.32,"g":"Yes"},{"x":5.66,"y":5.25,"g":"Yes"},{"x":5.38,"y":5.12,"g":"Yes"},{"x":5.97,"y":5.14,"g":"Yes"},{"x":6.06,"y":5.05,"g":"Yes"},{"x":6,"y":4.98,"g":"Yes"},{"x":5.62,"y":5.04,"g":"Yes"},{"x":4.83,"y":4.87,"g":"Yes"},{"x":5.59,"y":4.87,"g":"Yes"},{"x":5.01,"y":4.65,"g":"Yes"},{"x":6.17,"y":4.69,"g":"Yes"},{"x":5.87,"y":4.6,"g":"Yes"},{"x":4.62,"y":4.57,"g":"Yes"},{"x":4.68,"y":4.44,"g":"Yes"},{"x":6.26,"y":4.46,"g":"Yes"},{"x":5.65,"y":4.71,"g":"Yes"},{"x":5.67,"y":4.47,"g":"Yes"},{"x":5.55,"y":4.35,"g":"Yes"},{"x":5.04,"y":4.35,"g":"Yes"},{"x":5.39,"y":4.42,"g":"Yes"},{"x":5.27,"y":4.25,"g":"Yes"},{"x":5.17,"y":4.22,"g":"Yes"},{"x":4.95,"y":4.14,"g":"Yes"},{"x":4.2,"y":3.88,"g":"Yes"},{"x":4.63,"y":3.9,"g":"Yes"},{"x":4.92,"y":4,"g":"Yes"},{"x":5.3,"y":3.85,"g":"Yes"},{"x":5.55,"y":3.9,"g":"Yes"},{"x":4.37,"y":3.7,"g":"Yes"},{"x":4.69,"y":3.67,"g":"Yes"},{"x":5.51,"y":3.65,"g":"Yes"},{"x":5.51,"y":3.52,"g":"Yes"},{"x":5.23,"y":3.35,"g":"Yes"},{"x":3.8,"y":3.29,"g":"Yes"},{"x":4.28,"y":3.28,"g":"Yes"},{"x":4.79,"y":3.49,"g":"Yes"},{"x":5.44,"y":3.1,"g":"Yes"},{"x":4.76,"y":3.13,"g":"Yes"},{"x":5.14,"y":3.13,"g":"Yes"},{"x":5.08,"y":2.99,"g":"Yes"},{"x":4.44,"y":3.11,"g":"Yes"},{"x":4.05,"y":3.04,"g":"Yes"},{"x":3.47,"y":2.85,"g":"Yes"},{"x":3.51,"y":2.72,"g":"Yes"},{"x":3.6,"y":2.61,"g":"Yes"},{"x":3.67,"y":2.61,"g":"Yes"},{"x":3.44,"y":2.48,"g":"Yes"},{"x":3.28,"y":2.39,"g":"Yes"},{"x":2.97,"y":2.41,"g":"Yes"},{"x":3.05,"y":2.17,"g":"Yes"},{"x":3.4,"y":2.07,"g":"Yes"},{"x":3.32,"y":2.31,"g":"Yes"},{"x":4.34,"y":2.05,"g":"Yes"},{"x":4.48,"y":2.4,"g":"Yes"},{"x":4.98,"y":2.48,"g":"Yes"},{"x":4.87,"y":2.7,"g":"Yes"},{"x":3.8,"y":2.05,"g":"Yes"},{"x":3.86,"y":2.04,"g":"Yes"},{"x":2.75,"y":1.76,"g":"Yes"},{"x":2.63,"y":1.59,"g":"Yes"},{"x":2.84,"y":1.41,"g":"Yes"},{"x":2.93,"y":0.88,"g":"Yes"},{"x":2.78,"y":0.85,"g":"Yes"},{"x":2.24,"y":1.06,"g":"Yes"},{"x":3.63,"y":1.2,"g":"Yes"},{"x":3.56,"y":1.48,"g":"Yes"},{"x":3.9,"y":1.57,"g":"Yes"},{"x":3.86,"y":1.69,"g":"Yes"},{"x":4.12,"y":2.48,"g":"Yes"},{"x":4.21,"y":2.86,"g":"Yes"},{"x":4.44,"y":2.96,"g":"Yes"}]},"mark":{"type":"point","filled":false,"size":34,"strokeWidth":1.3},"encoding":{"x":{"field":"x","type":"quantitative"},"y":{"field":"y","type":"quantitative"},"color":{"field":"g","type":"nominal","scale":{"domain":["No","Yes"],"range":["#2f2a7e","#f58b20"]},"legend":{"title":"Chromothrip.","orient":"none","legendX":491,"legendY":634,"symbolType":"square","symbolSize":16,"symbolStrokeWidth":3,"symbolOffset":18,"titleFontSize":11.3,"labelFontSize":12,"rowPadding":2,"labelOffset":4}}}}
]},
{"layer":[
{"data":{"values":[{"x":0},{"x":0.05},{"x":0.1},{"x":0.15},{"x":0.2},{"x":0.25},{"x":0.3},{"x":0.35}]},"mark":{"type":"rule","color":"#dddddd","strokeDash":[1,2]},"encoding":{"x":{"field":"x","type":"quantitative","scale":{"domain":[0,0.35],"range":[497.5,569.9],"nice":false,"zero":false},"axis":{"orient":"bottom","title":"Density","values":[0,0.05,0.1,0.15,0.2,0.25,0.3,0.35],"labelExpr":"(round(datum.value*100)==0 || round(datum.value*100)==20) ? format(datum.value,'.2f') : ''","offset":-704,"titlePadding":6}},"y":{"datum":-0.1,"scale":{"domain":[0,6],"range":[1082.1,742.9],"nice":false,"zero":false},"axis":null},"y2":{"datum":6.6}}},
{"data":{"values":[{"x":0,"y":-0.27,"g":"No"},{"x":0.01,"y":0,"g":"No"},{"x":0.037,"y":0.24,"g":"No"},{"x":0.084,"y":0.62,"g":"No"},{"x":0.146,"y":1,"g":"No"},{"x":0.215,"y":1.38,"g":"No"},{"x":0.24,"y":1.63,"g":"No"},{"x":0.25,"y":1.88,"g":"No"},{"x":0.234,"y":2.14,"g":"No"},{"x":0.234,"y":2.39,"g":"No"},{"x":0.249,"y":2.7,"g":"No"},{"x":0.27,"y":3.15,"g":"No"},{"x":0.28,"y":3.65,"g":"No"},{"x":0.252,"y":4.03,"g":"No"},{"x":0.196,"y":4.28,"g":"No"},{"x":0.12,"y":4.6,"g":"No"},{"x":0.075,"y":4.91,"g":"No"},{"x":0.037,"y":5.29,"g":"No"},{"x":0.019,"y":5.86,"g":"No"},{"x":0.002,"y":6.53,"g":"No"},{"x":0,"y":-0.27,"g":"Yes"},{"x":0.002,"y":0,"g":"Yes"},{"x":0.019,"y":0.49,"g":"Yes"},{"x":0.047,"y":0.87,"g":"Yes"},{"x":0.084,"y":1.25,"g":"Yes"},{"x":0.14,"y":1.63,"g":"Yes"},{"x":0.206,"y":2.01,"g":"Yes"},{"x":0.252,"y":2.39,"g":"Yes"},{"x":0.31,"y":2.7,"g":"Yes"},{"x":0.336,"y":3.02,"g":"Yes"},{"x":0.346,"y":3.27,"g":"Yes"},{"x":0.318,"y":3.65,"g":"Yes"},{"x":0.27,"y":4.03,"g":"Yes"},{"x":0.206,"y":4.41,"g":"Yes"},{"x":0.14,"y":4.79,"g":"Yes"},{"x":0.075,"y":5.17,"g":"Yes"},{"x":0.037,"y":5.55,"g":"Yes"},{"x":0.02,"y":5.86,"g":"Yes"},{"x":0.002,"y":6.53,"g":"Yes"}]},"mark":{"type":"line","interpolate":"catmull-rom","strokeWidth":1.6},"encoding":{"x":{"field":"x","type":"quantitative"},"y":{"field":"y","type":"quantitative","axis":null},"order":{"field":"y"},"color":{"field":"g","type":"nominal","scale":{"domain":["No","Yes"],"range":["#2f2a7e","#f58b20"]},"legend":null}}},
{"data":{"values":[{"t":"***","x":0.257,"y":5.92}]},"mark":{"type":"text","fontSize":21,"color":"#111111"},"encoding":{"x":{"field":"x","type":"quantitative"},"y":{"field":"y","type":"quantitative","axis":null},"text":{"field":"t"}}}
]},
{"layer":[
{"data":{"values":[{"x":1.5},{"x":2},{"x":2.5},{"x":3},{"x":3.5},{"x":4},{"x":4.5}]},"mark":{"type":"rule","color":"#dddddd","strokeDash":[1,2]},"encoding":{"x":{"field":"x","type":"quantitative","scale":{"domain":[1.5,4.5],"range":[729.5,1072.7],"nice":false,"zero":false},"axis":{"orient":"bottom","title":"TOPBP1 log(TPM+1)","values":[1.5,2,2.5,3,3.5,4,4.5],"format":".1f","labelFontSize":20,"titleFontSize":20.3,"offset":-793.6,"labelPadding":1,"titlePadding":5,"titleX":897}},"y":{"datum":0.45,"scale":{"domain":[0.5,4],"range":[1001.4,670.7],"nice":false,"zero":false},"axis":{"orient":"left","title":"CIP2A log(TPM+1)","values":[0.5,1,1.5,2,2.5,3,3.5,4],"format":".1f","labelFontSize":20,"titleFontSize":20.3,"offset":-722.1,"labelAngle":0,"labelPadding":3,"titlePadding":15}},"y2":{"datum":4.2}}},
{"data":{"values":[{"y":0.5},{"y":1},{"y":1.5},{"y":2},{"y":2.5},{"y":3},{"y":3.5},{"y":4}]},"mark":{"type":"rule","color":"#dddddd","strokeDash":[1,2]},"encoding":{"y":{"field":"y","type":"quantitative"},"x":{"datum":1.44},"x2":{"datum":4.52}}},
{"data":{"values":[{"x":3.13}]},"mark":{"type":"rule","color":"#bbbbbb","strokeDash":[5,4],"strokeWidth":1.3},"encoding":{"x":{"field":"x","type":"quantitative"},"y":{"datum":0.45},"y2":{"datum":4.2}}},
{"data":{"values":[{"y":2.28}]},"mark":{"type":"rule","color":"#bbbbbb","strokeDash":[5,4],"strokeWidth":1.3},"encoding":{"y":{"field":"y","type":"quantitative"},"x":{"datum":1.44},"x2":{"datum":4.52}}},
{"data":{"values":[{"x":1.44,"y":4.18,"x2":4.51,"y2":1.26}]},"mark":{"type":"rule","color":"#111111","strokeDash":[3,3],"strokeWidth":1.2},"encoding":{"x":{"field":"x","type":"quantitative"},"y":{"field":"y","type":"quantitative"},"x2":{"field":"x2"},"y2":{"field":"y2"}}},
{"data":{"values":[{"x":2.51,"y":4.19,"x2":4.52,"y2":2.28},{"x":1.44,"y":3.22,"x2":4.31,"y2":0.5}]},"mark":{"type":"rule","color":"#2e7d3c","strokeDash":[3,3],"strokeWidth":1.2},"encoding":{"x":{"field":"x","type":"quantitative"},"y":{"field":"y","type":"quantitative"},"x2":{"field":"x2"},"y2":{"field":"y2"}}},
{"data":{"values":[{"x":3.35,"y":3.37,"c":"Other"},{"x":3.48,"y":3.22,"c":"Other"},{"x":3.2,"y":3.17,"c":"Other"},{"x":3.24,"y":3.07,"c":"Other"},{"x":3.51,"y":3.01,"c":"Other"},{"x":3.56,"y":2.95,"c":"Other"},{"x":3.74,"y":2.95,"c":"Other"},{"x":3.5,"y":2.91,"c":"Other"},{"x":3.53,"y":2.89,"c":"Other"},{"x":3.65,"y":2.9,"c":"Other"},{"x":3.65,"y":2.86,"c":"Other"},{"x":3.41,"y":2.85,"c":"Other"},{"x":3.39,"y":2.81,"c":"Other"},{"x":3.38,"y":2.75,"c":"Other"},{"x":3.46,"y":2.78,"c":"Other"},{"x":3.58,"y":2.82,"c":"Other"},{"x":3.89,"y":2.82,"c":"Other"},{"x":3.79,"y":2.8,"c":"Other"},{"x":3.7,"y":2.76,"c":"Other"},{"x":3.23,"y":2.73,"c":"Other"},{"x":3.21,"y":2.69,"c":"Other"},{"x":2.91,"y":2.69,"c":"Other"},{"x":3.5,"y":2.69,"c":"Other"},{"x":3.65,"y":2.68,"c":"Other"},{"x":3.85,"y":2.7,"c":"Other"},{"x":3.04,"y":2.56,"c":"Other"},{"x":3.06,"y":2.54,"c":"Other"},{"x":3.12,"y":2.53,"c":"Other"},{"x":3.21,"y":2.58,"c":"Other"},{"x":3.26,"y":2.55,"c":"Other"},{"x":3.56,"y":2.56,"c":"Other"},{"x":3.81,"y":2.56,"c":"Other"},{"x":3.6,"y":2.45,"c":"Other"},{"x":3.61,"y":2.42,"c":"Other"},{"x":3.82,"y":2.45,"c":"Other"},{"x":3.42,"y":2.46,"c":"Other"},{"x":3.33,"y":2.45,"c":"Other"},{"x":3.26,"y":2.42,"c":"Other"},{"x":3.18,"y":2.41,"c":"Other"},{"x":3.25,"y":2.36,"c":"Other"},{"x":3.21,"y":2.3,"c":"Other"},{"x":3.06,"y":2.4,"c":"Other"},{"x":3.64,"y":2.33,"c":"Other"},{"x":2.63,"y":2.28,"c":"Other"},{"x":2.79,"y":2.32,"c":"Other"},{"x":2.77,"y":2.28,"c":"Other"},{"x":2.84,"y":2.24,"c":"Other"},{"x":2.94,"y":2.33,"c":"Other"},{"x":2.96,"y":2.27,"c":"Other"},{"x":2.97,"y":2.26,"c":"Other"},{"x":3.05,"y":2.27,"c":"Other"},{"x":3.11,"y":2.23,"c":"Other"},{"x":3.05,"y":2.17,"c":"Other"},{"x":3.11,"y":2.15,"c":"Other"},{"x":2.66,"y":2.14,"c":"Other"},{"x":3.29,"y":2.16,"c":"Other"},{"x":3.56,"y":2.18,"c":"Other"},{"x":3.77,"y":2.15,"c":"Other"},{"x":3.25,"y":2.11,"c":"Other"},{"x":3.39,"y":2.09,"c":"Other"},{"x":3.52,"y":2.11,"c":"Other"},{"x":3.52,"y":2.05,"c":"Other"},{"x":2.79,"y":2.09,"c":"Other"},{"x":2.82,"y":2.04,"c":"Other"},{"x":3.08,"y":2.07,"c":"Other"},{"x":3.07,"y":2.02,"c":"Other"},{"x":2.92,"y":2.03,"c":"Other"},{"x":2.41,"y":1.98,"c":"Other"},{"x":2.69,"y":1.99,"c":"Other"},{"x":2.69,"y":1.98,"c":"Other"},{"x":2.78,"y":1.98,"c":"Other"},{"x":2.87,"y":1.95,"c":"Other"},{"x":2.94,"y":1.93,"c":"Other"},{"x":2.44,"y":1.89,"c":"Other"},{"x":3.38,"y":1.88,"c":"Other"},{"x":2.46,"y":1.8,"c":"Other"},{"x":2.52,"y":1.81,"c":"Other"},{"x":2.54,"y":1.81,"c":"Other"},{"x":2.98,"y":1.77,"c":"Other"},{"x":2.36,"y":1.72,"c":"Other"},{"x":2.42,"y":1.71,"c":"Other"},{"x":3.13,"y":1.74,"c":"Other"},{"x":3.45,"y":1.72,"c":"Other"},{"x":2.05,"y":1.67,"c":"Other"},{"x":2.27,"y":1.65,"c":"Other"},{"x":3.1,"y":1.66,"c":"Other"},{"x":2.55,"y":1.62,"c":"Other"},{"x":2.71,"y":1.63,"c":"Other"},{"x":2.31,"y":1.55,"c":"Other"},{"x":2.94,"y":1.54,"c":"Other"},{"x":2.98,"y":1.49,"c":"Other"},{"x":3.02,"y":1.42,"c":"Other"},{"x":2.12,"y":1.5,"c":"Other"},{"x":2.36,"y":1.43,"c":"Other"},{"x":2.65,"y":1.43,"c":"Other"},{"x":2.68,"y":1.42,"c":"Other"},{"x":2.75,"y":1.37,"c":"Other"},{"x":2.82,"y":1.41,"c":"Other"},{"x":2.89,"y":1.35,"c":"Other"},{"x":2.89,"y":1.26,"c":"Other"},{"x":2.51,"y":1.3,"c":"Other"},{"x":1.91,"y":1.22,"c":"Other"},{"x":2.48,"y":1.15,"c":"Other"},{"x":2.72,"y":1.18,"c":"Other"},{"x":2.7,"y":1.09,"c":"Other"},{"x":1.82,"y":1.11,"c":"Other"},{"x":1.82,"y":1.09,"c":"Other"},{"x":2.46,"y":1.03,"c":"Other"},{"x":1.98,"y":1,"c":"Other"},{"x":2.52,"y":0.83,"c":"Other"},{"x":1.55,"y":0.74,"c":"Other"},{"x":1.59,"y":0.68,"c":"Other"},{"x":1.92,"y":0.59,"c":"Other"},{"x":2.02,"y":0.61,"c":"Other"},{"x":4.41,"y":4.05,"c":"High"},{"x":4.33,"y":3.81,"c":"High"},{"x":3.69,"y":3.69,"c":"High"},{"x":3.93,"y":3.64,"c":"High"},{"x":3.73,"y":3.55,"c":"High"},{"x":4.14,"y":3.56,"c":"High"},{"x":3.9,"y":3.5,"c":"High"},{"x":4.21,"y":3.51,"c":"High"},{"x":4.19,"y":3.47,"c":"High"},{"x":3.87,"y":3.37,"c":"High"},{"x":3.93,"y":3.27,"c":"High"},{"x":3.92,"y":3.25,"c":"High"},{"x":4.29,"y":3.25,"c":"High"},{"x":4.08,"y":3.19,"c":"High"},{"x":3.9,"y":3.11,"c":"High"},{"x":4.34,"y":3.09,"c":"High"},{"x":3.74,"y":3.06,"c":"High"},{"x":3.85,"y":3.01,"c":"High"},{"x":3.95,"y":3,"c":"High"}]},"mark":{"type":"circle","size":75,"fillOpacity":0.55,"strokeOpacity":0.8,"strokeWidth":1},"encoding":{"x":{"field":"x","type":"quantitative"},"y":{"field":"y","type":"quantitative"},"fill":{"field":"c","type":"nominal","scale":{"domain":["Other","High"],"range":["#7c69b5","#cc6a48"]},"legend":null},"stroke":{"field":"c","type":"nominal","scale":{"domain":["Other","High"],"range":["#6555a3","#bd5a3a"]},"legend":null}}},
{"data":{"values":[{"t":"WGS (PCAWG) only Chromothriptic Samples","x":2.953,"y":4.457}]},"mark":{"type":"text","fontSize":20.5,"color":"#222222"},"encoding":{"x":{"field":"x","type":"quantitative"},"y":{"field":"y","type":"quantitative"},"text":{"field":"t"}}},
{"data":{"values":[{"t":"E","x":0.62,"y":4.6}]},"mark":{"type":"text","fontSize":46,"fontWeight":"bold","baseline":"alphabetic","color":"#231f20"},"encoding":{"x":{"field":"x","type":"quantitative"},"y":{"field":"y","type":"quantitative"},"text":{"field":"t"}}}
]},
{"layer":[
{"data":{"values":[{"x":0,"x2":1,"y":0,"y2":1}]},"mark":{"type":"rect","fill":"white","stroke":"#cccccc","strokeWidth":1.5},"encoding":{"x":{"field":"x","type":"quantitative","scale":{"domain":[0,1],"range":[1212.7,1583.5],"nice":false,"zero":false},"axis":null},"x2":{"field":"x2"},"y":{"field":"y","type":"quantitative","scale":{"domain":[0,1],"range":[632.9,1082.1],"nice":false,"zero":false},"axis":null},"y2":{"field":"y2"}}},
{"data":{"values":[{"x":0.096},{"x":0.256},{"x":0.417},{"x":0.579},{"x":0.74},{"x":0.901}]},"mark":{"type":"rule","color":"#eeeeee"},"encoding":{"x":{"field":"x","type":"quantitative","axis":null},"y":{"datum":0,"axis":null},"y2":{"datum":1}}},
{"data":{"values":[{"y":0.187},{"y":0.5},{"y":0.813}]},"mark":{"type":"rule","color":"#eeeeee","strokeWidth":1.5},"encoding":{"y":{"field":"y","type":"quantitative","axis":null},"x":{"datum":0,"axis":null},"x2":{"datum":1}}},
{"data":{"values":[{"t":"WGS (PCAWG) only Chromothriptic Samples","x":0.459,"y":-0.036}]},"mark":{"type":"text","fontSize":20,"color":"#222222"},"encoding":{"x":{"field":"x","type":"quantitative","axis":null},"y":{"field":"y","type":"quantitative","axis":null},"text":{"field":"t"}}},
{"data":{"values":[{"t":"F","x":-0.188,"y":-0.0465}]},"mark":{"type":"text","fontSize":46,"fontWeight":"bold","baseline":"alphabetic","color":"#231f20"},"encoding":{"x":{"field":"x","type":"quantitative","axis":null},"y":{"field":"y","type":"quantitative","axis":null},"text":{"field":"t"}}}
]},
{"data":{"values":[{"cn":"CN4","band":"Upper","or":-1.2,"q":0.07},{"cn":"CN5","band":"Upper","or":-0.45,"q":0.5},{"cn":"CN7","band":"Upper","or":0.7,"q":2.5},{"cn":"CN9","band":"Upper","or":-0.2,"q":0.7},{"cn":"CN4","band":"Middle","or":-0.2,"q":0.04},{"cn":"CN6","band":"Middle","or":0.2,"q":0.4},{"cn":"CN7","band":"Middle","or":0.5,"q":1.9},{"cn":"CN8","band":"Middle","or":0.4,"q":0.68},{"cn":"CN9","band":"Middle","or":-0.1,"q":0.4},{"cn":"CN4","band":"Lower","or":1.29,"q":0.53},{"cn":"CN5","band":"Lower","or":0.3,"q":0.03},{"cn":"CN7","band":"Lower","or":-1,"q":11},{"cn":"CN8","band":"Lower","or":-0.2,"q":0.68},{"cn":"CN9","band":"Lower","or":0.55,"q":2.4}]},"mark":{"type":"point","filled":true,"opacity":0.95},"encoding":{"x":{"field":"cn","type":"ordinal","scale":{"type":"point","domain":["CN4","CN5","CN6","CN7","CN8","CN9"],"range":[1248.3,1547.1],"padding":0},"axis":{"orient":"bottom","title":"Copy number signature","labelAngle":0,"labelFontSize":16,"titleFontSize":20,"offset":-717.9,"domain":false,"tickColor":"#bbbbbb","labelPadding":5,"titlePadding":10}},"y":{"field":"band","type":"ordinal","scale":{"type":"point","domain":["Upper","Middle","Lower"],"range":[716.8,998.2],"padding":0},"axis":{"orient":"left","title":"TOPBP1/CIP2A expression","labelFontSize":17,"titleFontSize":19.7,"offset":-1212.7,"domain":false,"ticks":false,"labelPadding":5,"titlePadding":8,"titleY":853}},"color":{"field":"or","type":"quantitative","scale":{"domain":[-1.29,0,0.65,1.29],"range":["#f7941d","#ffffff","#9a86c6","#2b2580"],"interpolate":"rgb"},"legend":{"title":"log(OR)","orient":"none","legendX":1599,"legendY":738,"gradientLength":86,"gradientThickness":17,"values":[-1,-0.5,0,0.5,1],"format":".1f","titleFontSize":10.5,"labelFontSize":9}},"size":{"field":"q","type":"quantitative","scale":{"domain":[0,3,6,9,11],"range":[0,283,573,755,962]},"legend":{"title":"−log2(q)","orient":"none","legendX":1603,"legendY":862,"values":[3,6,9],"symbolFillColor":"#000000","symbolStrokeColor":"#000000","titleFontSize":10.5,"labelFontSize":9,"symbolType":"circle"}}}},
{"data":{"values":[{"t":"***","x":0.651,"y":0.775}]},"mark":{"type":"text","fontSize":17,"color":"#111111"},"encoding":{"x":{"field":"x","type":"quantitative","scale":{"domain":[0,1],"range":[1212.7,1583.5],"nice":false,"zero":false},"axis":null},"y":{"field":"y","type":"quantitative","scale":{"domain":[0,1],"range":[632.9,1082.1],"nice":false,"zero":false},"axis":null},"text":{"field":"t"}}},
{"layer":[
{"data":{"values":[{"r0":0,"r1":1},{"r0":2,"r1":3},{"r0":4,"r1":5},{"r0":6.186,"r1":7.186},{"r0":8.186,"r1":9.186},{"r0":10.186,"r1":11.186},{"r0":12.372,"r1":13.372},{"r0":14.372,"r1":15.372},{"r0":16.372,"r1":17.372}]},"mark":{"type":"rect","fill":"#b8b4b4"},"encoding":{"x":{"datum":-16.98,"scale":{"domain":[-5,15],"range":[277,520.5],"nice":false,"zero":false},"axis":{"orient":"bottom","title":"Effect size on gene expression","values":[-5,0,5,10,15],"format":"d","labelFontSize":15,"titleFontSize":16,"offset":-41.8,"labelPadding":-2,"titlePadding":4,"tickSize":6}},"x2":{"datum":15.85},"y":{"field":"r0","type":"quantitative","scale":{"domain":[0,18.372],"range":[1206.8,1740.4],"nice":false,"zero":false},"axis":null},"y2":{"field":"r1"}}},
{"data":{"values":[{"r0":2,"r1":6},{"r0":8.186,"r1":12.186},{"r0":14.372,"r1":18.372}]},"mark":{"type":"rect","fill":"#b8b4b4"},"encoding":{"x":{"datum":-21.45},"x2":{"datum":-16.98},"y":{"field":"r0","type":"quantitative","axis":null},"y2":{"field":"r1"}}},
{"data":{"values":[{"r0":0,"r1":2},{"r0":2,"r1":6},{"r0":6.186,"r1":8.186},{"r0":8.186,"r1":12.186},{"r0":12.372,"r1":14.372},{"r0":14.372,"r1":18.372}]},"mark":{"type":"rect","fillOpacity":0,"stroke":"#333333","strokeWidth":1.5},"encoding":{"x":{"datum":-21.45},"x2":{"datum":15.85},"y":{"field":"r0","type":"quantitative","axis":null},"y2":{"field":"r1"}}},
{"data":{"values":[{"x":-16.98,"r0":0,"r1":6},{"x":-10.9,"r0":0,"r1":6},{"x":-8.66,"r0":0,"r1":6},{"x":-16.98,"r0":6.186,"r1":12.186},{"x":-10.9,"r0":6.186,"r1":12.186},{"x":-8.66,"r0":6.186,"r1":12.186},{"x":-16.98,"r0":12.372,"r1":18.372},{"x":-10.9,"r0":12.372,"r1":18.372},{"x":-8.66,"r0":12.372,"r1":18.372}]},"mark":{"type":"rule","color":"#333333","strokeWidth":1.5},"encoding":{"x":{"field":"x","type":"quantitative"},"y":{"field":"r0","type":"quantitative","axis":null},"y2":{"field":"r1"}}},
{"data":{"values":[{"z":0}]},"mark":{"type":"rule","color":"#111111","strokeWidth":2,"strokeDash":[4,4]},"encoding":{"x":{"field":"z","type":"quantitative"},"y":{"datum":0,"axis":null},"y2":{"datum":18.372}}},
{"data":{"values":[{"gene":"TOPBP1","level":"Yes","r":0.5,"lo":-3.64,"hi":-0.95},{"gene":"TOPBP1","level":">200","r":2.5,"lo":9.6,"hi":12.9},{"gene":"TOPBP1","level":"100–200","r":3.5,"lo":8.7,"hi":11},{"gene":"TOPBP1","level":"50–100","r":4.5,"lo":5.7,"hi":7.7},{"gene":"CIP2A","level":"Yes","r":6.686,"lo":-2.3,"hi":-0.9},{"gene":"CIP2A","level":">200","r":8.686,"lo":6,"hi":7.6},{"gene":"CIP2A","level":"100–200","r":9.686,"lo":4.66,"hi":5.85},{"gene":"CIP2A","level":"50–100","r":10.686,"lo":3.2,"hi":4.24},{"gene":"MDC1","level":"Yes","r":12.872,"lo":1.13,"hi":3.07},{"gene":"MDC1","level":">200","r":14.872,"lo":4.63,"hi":7},{"gene":"MDC1","level":"100–200","r":15.872,"lo":2.2,"hi":3.9},{"gene":"MDC1","level":"50–100","r":16.872,"lo":1.64,"hi":3.07}]},"mark":{"type":"rule","color":"#111111","strokeWidth":1.5},"encoding":{"x":{"field":"lo","type":"quantitative"},"x2":{"field":"hi"},"y":{"field":"r","type":"quantitative","axis":null}}},
{"data":{"values":[{"gene":"TOPBP1","level":"Yes","r":0.5,"eff":-2.3},{"gene":"TOPBP1","level":">200","r":2.5,"eff":11.2},{"gene":"TOPBP1","level":"100–200","r":3.5,"eff":9.9},{"gene":"TOPBP1","level":"50–100","r":4.5,"eff":6.7},{"gene":"CIP2A","level":"Yes","r":6.686,"eff":-1.6},{"gene":"CIP2A","level":">200","r":8.686,"eff":6.8},{"gene":"CIP2A","level":"100–200","r":9.686,"eff":5.25},{"gene":"CIP2A","level":"50–100","r":10.686,"eff":3.7},{"gene":"MDC1","level":"Yes","r":12.872,"eff":2.1},{"gene":"MDC1","level":">200","r":14.872,"eff":5.8},{"gene":"MDC1","level":"100–200","r":15.872,"eff":3},{"gene":"MDC1","level":"50–100","r":16.872,"eff":2.36}]},"mark":{"type":"point","filled":true,"color":"#000000","size":45,"opacity":1},"encoding":{"x":{"field":"eff","type":"quantitative"},"y":{"field":"r","type":"quantitative","axis":null}}},
{"data":{"values":[{"r":1.5,"eff":0},{"r":5.5,"eff":0},{"r":7.686,"eff":0},{"r":11.686,"eff":0},{"r":13.872,"eff":0},{"r":17.872,"eff":0}]},"mark":{"type":"point","shape":"square","filled":true,"color":"#000000","size":115,"opacity":1},"encoding":{"x":{"field":"eff","type":"quantitative"},"y":{"field":"r","type":"quantitative","axis":null}}},
{"data":{"values":[{"t":"Yes","r":0.5},{"t":"No","r":1.5},{"t":">200","r":2.5},{"t":"100–200","r":3.5},{"t":"50–100","r":4.5},{"t":"0–50","r":5.5},{"t":"Yes","r":6.686},{"t":"No","r":7.686},{"t":">200","r":8.686},{"t":"100–200","r":9.686},{"t":"50–100","r":10.686},{"t":"0–50","r":11.686},{"t":"Yes","r":12.872},{"t":"No","r":13.872},{"t":">200","r":14.872},{"t":"100–200","r":15.872},{"t":"50–100","r":16.872},{"t":"0–50","r":17.872}]},"mark":{"type":"text","fontSize":15.5,"color":"#111111"},"encoding":{"x":{"datum":-13.93},"y":{"field":"r","type":"quantitative","axis":null},"text":{"field":"t"}}},
{"data":{"values":[{"t":"***","r":0.5},{"t":"***","r":2.5},{"t":"***","r":3.5},{"t":"***","r":4.5},{"t":"***","r":6.686},{"t":"***","r":8.686},{"t":"***","r":9.686},{"t":"***","r":10.686},{"t":"***","r":12.872},{"t":"***","r":14.872},{"t":"***","r":15.872},{"t":"***","r":16.872}]},"mark":{"type":"text","fontSize":12,"color":"#111111"},"encoding":{"x":{"datum":-9.77},"y":{"field":"r","type":"quantitative","axis":null},"text":{"field":"t"}}},
{"data":{"values":[{"t":"Chromo–\nthriptic","r":1},{"t":"Number of\nsegments","r":4},{"t":"Chromo–\nthriptic","r":7.186},{"t":"Number of\nsegments","r":10.186},{"t":"Chromo–\nthriptic","r":13.372},{"t":"Number of\nsegments","r":16.372}]},"mark":{"type":"text","fontSize":13,"angle":270,"lineBreak":"\n","lineHeight":18,"color":"#111111"},"encoding":{"x":{"datum":-19.2},"y":{"field":"r","type":"quantitative","axis":null},"text":{"field":"t"}}},
{"data":{"values":[{"t":"TOPBP1","r":3.2},{"t":"CIP2A","r":9.4},{"t":"MDC1","r":15.6}]},"mark":{"type":"text","fontSize":14,"angle":90,"color":"#111111"},"encoding":{"x":{"datum":16.72},"y":{"field":"r","type":"quantitative","axis":null},"text":{"field":"t"}}},
{"data":{"values":[{"t":"Decreased\ngene expression","x":-4.02,"r":-1.21},{"t":"Increased\ngene expression","x":11.95,"r":-0.94}]},"mark":{"type":"text","fontSize":13.5,"lineBreak":"\n","lineHeight":17,"color":"#111111"},"encoding":{"x":{"field":"x","type":"quantitative"},"y":{"field":"r","type":"quantitative","axis":null},"text":{"field":"t"}}},
{"data":{"values":[{"x":-7.55,"x2":-0.99,"r":-0.23},{"x":0.96,"x2":7.55,"r":-0.23}]},"mark":{"type":"rule","color":"#111111","strokeWidth":1.1},"encoding":{"x":{"field":"x","type":"quantitative"},"x2":{"field":"x2"},"y":{"field":"r","type":"quantitative","axis":null}}},
{"data":{"values":[{"x":-7.55,"r":-0.23}]},"mark":{"type":"point","shape":"M 1 -1 L 0 0 L 1 1","filled":false,"color":"#111111","size":28,"strokeWidth":1.1,"opacity":1},"encoding":{"x":{"field":"x","type":"quantitative"},"y":{"field":"r","type":"quantitative","axis":null}}},
{"data":{"values":[{"x":7.55,"r":-0.23}]},"mark":{"type":"point","shape":"M -1 -1 L 0 0 L -1 1","filled":false,"color":"#111111","size":28,"strokeWidth":1.1,"opacity":1},"encoding":{"x":{"field":"x","type":"quantitative"},"y":{"field":"r","type":"quantitative","axis":null}}},
{"data":{"values":[{"t":"G","x":-25.86,"r":-0.527}]},"mark":{"type":"text","fontSize":46,"fontWeight":"bold","baseline":"alphabetic","color":"#231f20"},"encoding":{"x":{"field":"x","type":"quantitative"},"y":{"field":"r","type":"quantitative","axis":null},"text":{"field":"t"}}}
]},
{"layer":[
{"data":{"values":[{"a":0}]},"mark":{"type":"rect","fill":"#fcdfc6"},"encoding":{"x":{"datum":0.1,"scale":{"domain":[-0.1986,0.4564],"range":[643.7,1076.7],"nice":false,"zero":false},"axis":{"orient":"bottom","title":"Difference in mean log(TPM+1)","values":[0,0.2,0.4],"format":".1f","labelFontSize":18,"titleFontSize":24,"labelColor":"#4d4d4d","titleColor":"#111111","domainColor":"#222222","domainWidth":1.5,"offset":-96.7,"tickColor":"#555555","labelPadding":1,"titlePadding":1}},"x2":{"datum":0.4564},"y":{"datum":4.3,"scale":{"domain":[-3.27,131],"range":[1703.3,1256.2],"nice":false,"zero":false},"axis":{"orient":"left","title":"−log2(Q)","values":[0,25,50,75,100,125],"labelAngle":0,"labelFontSize":18,"titleFontSize":24,"labelColor":"#4d4d4d","titleColor":"#111111","domainColor":"#222222","domainWidth":1.5,"offset":-643.7,"tickColor":"#555555","labelPadding":2,"titlePadding":5,"titleY":1517}},"y2":{"datum":131}}},
{"data":{"values":[{"x":0},{"x":0.2},{"x":0.4},{"x":-0.1},{"x":0.1},{"x":0.3}]},"mark":{"type":"rule","color":"#000000","opacity":0.07,"strokeWidth":1},"encoding":{"x":{"field":"x","type":"quantitative"},"y":{"datum":-3.27},"y2":{"datum":131}}},
{"data":{"values":[{"y":0},{"y":25},{"y":50},{"y":75},{"y":100},{"y":125},{"y":12.5},{"y":37.5},{"y":62.5},{"y":87.5},{"y":112.5}]},"mark":{"type":"rule","color":"#000000","opacity":0.07,"strokeWidth":1},"encoding":{"y":{"field":"y","type":"quantitative"},"x":{"datum":-0.1986},"x2":{"datum":0.4564}}},
{"data":{"values":[{"x":-0.1},{"x":0.1}]},"mark":{"type":"rule","color":"#cfcfcf","strokeWidth":3.2,"strokeDash":[13,9]},"encoding":{"x":{"field":"x","type":"quantitative"},"y":{"datum":-3.27},"y2":{"datum":131}}},
{"data":{"values":[{"y":4.3}]},"mark":{"type":"rule","color":"#cfcfcf","strokeWidth":3.2,"strokeDash":[13,9]},"encoding":{"y":{"field":"y","type":"quantitative"},"x":{"datum":-0.1986},"x2":{"datum":0.4564}}},
{"data":{"values":[{"x":0.427,"y":124.9},{"x":0.254,"y":125},{"x":0.359,"y":117.9},{"x":0.223,"y":118},{"x":0.278,"y":110.9},{"x":0.269,"y":104.6},{"x":0.193,"y":108.1},{"x":0.183,"y":99.3},{"x":0.19,"y":95.6},{"x":0.25,"y":95.4},{"x":0.303,"y":96},{"x":0.371,"y":97.2},{"x":0.148,"y":86.5},{"x":0.269,"y":85.6},{"x":0.253,"y":84.5},{"x":0.25,"y":83.8},{"x":0.202,"y":81.5},{"x":0.356,"y":78},{"x":0.159,"y":77.1},{"x":0.183,"y":75.3},{"x":0.143,"y":73.4},{"x":0.122,"y":71.9},{"x":0.15,"y":70.6},{"x":0.21,"y":71.4},{"x":0.206,"y":68.9},{"x":0.289,"y":67.8},{"x":0.218,"y":66.8},{"x":0.229,"y":66.3},{"x":0.205,"y":65.5},{"x":0.215,"y":64.1},{"x":0.225,"y":62.2},{"x":0.183,"y":63.3},{"x":0.193,"y":61.9},{"x":0.194,"y":61.6},{"x":0.146,"y":61.6},{"x":0.368,"y":61.5},{"x":0.146,"y":58},{"x":0.165,"y":58},{"x":0.171,"y":58.3},{"x":0.247,"y":58.1},{"x":0.251,"y":58.2},{"x":0.174,"y":56.4},{"x":0.177,"y":55.9},{"x":0.144,"y":54.6},{"x":0.116,"y":55},{"x":0.124,"y":54.6},{"x":0.131,"y":53.5},{"x":0.135,"y":53.2},{"x":0.224,"y":55.3},{"x":0.202,"y":55.3},{"x":0.231,"y":51.9},{"x":0.177,"y":52.1},{"x":0.116,"y":51.5},{"x":0.113,"y":50.8},{"x":0.109,"y":49.9},{"x":0.136,"y":51.2},{"x":0.141,"y":50.2},{"x":0.186,"y":49.6},{"x":0.174,"y":49.1},{"x":0.197,"y":47.4},{"x":0.113,"y":46.6},{"x":0.116,"y":46.1},{"x":0.108,"y":44.8},{"x":0.168,"y":45.5},{"x":0.146,"y":43.9},{"x":0.204,"y":43.5},{"x":0.191,"y":42.7},{"x":0.121,"y":42.8},{"x":0.131,"y":43},{"x":0.118,"y":42.2},{"x":0.146,"y":40},{"x":0.149,"y":39.5},{"x":0.129,"y":40},{"x":0.124,"y":38.4},{"x":0.165,"y":36.4},{"x":0.14,"y":36.4},{"x":0.111,"y":36.8},{"x":0.103,"y":36.2},{"x":0.098,"y":36.6},{"x":0.116,"y":35.7},{"x":0.108,"y":35.2},{"x":0.093,"y":35.7},{"x":0.081,"y":34.9},{"x":0.087,"y":35.7},{"x":0.142,"y":32.2},{"x":0.174,"y":31.8},{"x":0.103,"y":31.3},{"x":0.096,"y":30.8},{"x":0.091,"y":30.2},{"x":0.116,"y":30.2},{"x":0.126,"y":29.1},{"x":0.098,"y":28.6},{"x":0.083,"y":28.6},{"x":0.073,"y":27.5},{"x":0.126,"y":25.9},{"x":0.103,"y":26.4},{"x":0.093,"y":25.9},{"x":0.078,"y":25.3},{"x":0.068,"y":24.8},{"x":0.101,"y":25.3},{"x":0.073,"y":23.1},{"x":0.053,"y":22.6},{"x":0.044,"y":23.1},{"x":0.091,"y":23.1},{"x":0.083,"y":22.1},{"x":0.071,"y":21.5},{"x":0.093,"y":21.2},{"x":0.078,"y":20.4},{"x":0.078,"y":18.2},{"x":0.083,"y":17.1},{"x":0.063,"y":17.7},{"x":0.053,"y":16.6},{"x":0.026,"y":19.2},{"x":0.029,"y":15},{"x":0.048,"y":15.5},{"x":0.068,"y":15.5},{"x":0.058,"y":13.9},{"x":0.05,"y":13.3},{"x":0.043,"y":12.2},{"x":0.015,"y":12.2},{"x":0.089,"y":12.2},{"x":0.073,"y":11.7},{"x":0.063,"y":11.1},{"x":0.053,"y":10},{"x":0.038,"y":9},{"x":0.068,"y":9.3},{"x":0.033,"y":8.4},{"x":0.023,"y":7.3},{"x":0.091,"y":6},{"x":0.043,"y":6.2},{"x":0.033,"y":5.7},{"x":0.018,"y":6.2},{"x":0,"y":9.5},{"x":-0.013,"y":7.9},{"x":-0.023,"y":6.2},{"x":-0.035,"y":8.4},{"x":-0.04,"y":13.1},{"x":-0.064,"y":12.8},{"x":-0.081,"y":15.8},{"x":-0.083,"y":12},{"x":-0.077,"y":11.1},{"x":-0.066,"y":5},{"x":-0.038,"y":4.6},{"x":-0.018,"y":4},{"x":-0.013,"y":3.5},{"x":-0.005,"y":3.2},{"x":0.003,"y":2.9},{"x":0.01,"y":3.5},{"x":0.018,"y":3.5},{"x":0,"y":4},{"x":-0.008,"y":5.1},{"x":0.023,"y":4.6},{"x":0.03,"y":4},{"x":0.033,"y":11.1},{"x":0.043,"y":10},{"x":0.048,"y":11.7},{"x":0.055,"y":13.3},{"x":0.061,"y":16},{"x":0.066,"y":17.1},{"x":0.076,"y":18.8},{"x":0.048,"y":17.1},{"x":0.053,"y":14.4},{"x":0.073,"y":21},{"x":0.083,"y":25.3},{"x":0.096,"y":28.6},{"x":0.088,"y":27.5},{"x":0.081,"y":24.8},{"x":0.008,"y":3.5},{"x":0.013,"y":4},{"x":0.035,"y":6.8},{"x":0.04,"y":7.9},{"x":-0.164,"y":43.3},{"x":-0.137,"y":40.2},{"x":-0.169,"y":32.9},{"x":-0.131,"y":33.3},{"x":-0.121,"y":34}]},"mark":{"type":"point","filled":false,"size":78,"strokeWidth":1.1,"color":"#7d7d7d","opacity":0.9},"encoding":{"x":{"field":"x","type":"quantitative"},"y":{"field":"y","type":"quantitative"}}},
{"data":{"values":[{"x":0.168,"y":61.1},{"x":0.205,"y":53.2},{"x":0.163,"y":50.4}]},"mark":{"type":"point","filled":false,"size":78,"strokeWidth":1.3,"color":"#c0392b","opacity":1},"encoding":{"x":{"field":"x","type":"quantitative"},"y":{"field":"y","type":"quantitative"}}},
{"data":{"values":[{"x":0.231,"y":103.9,"x2":0.265,"y2":104.6},{"x":0.15,"y":80.3,"x2":0.157,"y2":77.7}]},"mark":{"type":"rule","color":"#777777","strokeWidth":1.1},"encoding":{"x":{"field":"x","type":"quantitative"},"y":{"field":"y","type":"quantitative"},"x2":{"field":"x2"},"y2":{"field":"y2"}}},
{"data":{"values":[{"t":"FAAP24","x":0.239,"y":121.9},{"t":"UBE2T","x":0.411,"y":121.7},{"t":"RAD18","x":0.212,"y":115.7},{"t":"CDC25C","x":0.344,"y":114.8},{"t":"RAD1","x":0.204,"y":110.3},{"t":"EME1","x":0.265,"y":108},{"t":"FANCD2","x":0.195,"y":103.8},{"t":"NSMCE2","x":0.138,"y":97.9},{"t":"BRIP1","x":0.265,"y":98.4},{"t":"FANCI","x":0.329,"y":98.9},{"t":"EXO1","x":0.391,"y":100},{"t":"RAD51C","x":0.204,"y":92.6},{"t":"RAD54B","x":0.124,"y":89.4},{"t":"RFC3","x":0.231,"y":87.2},{"t":"NEIL3","x":0.291,"y":88.6},{"t":"XRCC2","x":0.292,"y":81.8},{"t":"FANCB","x":0.149,"y":82},{"t":"TTK","x":0.37,"y":81},{"t":"BRCA2","x":0.22,"y":77.9},{"t":"ATRIP","x":0.124,"y":76.4},{"t":"LIG3","x":0.182,"y":72.3},{"t":"SMARCC1","x":0.26,"y":72.3},{"t":"SMUG1","x":0.081,"y":71},{"t":"YWHAB","x":0.158,"y":66.9},{"t":"RAD51","x":0.304,"y":64.8},{"t":"RMI2","x":0.232,"y":61.1},{"t":"RRM2","x":0.384,"y":58.3},{"t":"HLTF","x":0.226,"y":46.5},{"t":"GADD45A","x":-0.151,"y":46.4},{"t":"NUDT18","x":-0.095,"y":41},{"t":"PER1","x":-0.169,"y":35.8},{"t":"DDB2","x":-0.09,"y":35.7},{"t":"PPP4R4","x":-0.127,"y":30},{"t":"RECQL","x":0.155,"y":22.7},{"t":"RN","x":0.063,"y":25.9}]},"mark":{"type":"text","fontSize":10.5,"color":"#999999"},"encoding":{"x":{"field":"x","type":"quantitative"},"y":{"field":"y","type":"quantitative"},"text":{"field":"t"}}},
{"data":{"values":[{"t":"MDC1","x":0.153,"y":64.1},{"t":"CIP2A","x":0.22,"y":56.2},{"t":"TOPBP1","x":0.149,"y":47.4}]},"mark":{"type":"text","fontSize":10.5,"color":"#c0392b"},"encoding":{"x":{"field":"x","type":"quantitative"},"y":{"field":"y","type":"quantitative"},"text":{"field":"t"}}},
{"data":{"values":[{"t":"Chromothripsis","x":0.2975,"y":25.3},{"t":"enriched","x":0.2975,"y":16.8}]},"mark":{"type":"text","fontSize":23,"font":"Open Sans","color":"#e8342a"},"encoding":{"x":{"field":"x","type":"quantitative"},"y":{"field":"y","type":"quantitative"},"text":{"field":"t"}}},
{"data":{"values":[{"t":"H","x":-0.221,"y":150.3}]},"mark":{"type":"text","fontSize":46,"fontWeight":"bold","baseline":"alphabetic","color":"#231f20"},"encoding":{"x":{"field":"x","type":"quantitative"},"y":{"field":"y","type":"quantitative"},"text":{"field":"t"}}}
]},
{"layer":[
{"data":{"values":[{"x":-0.2},{"x":0},{"x":0.2},{"x":0.4},{"x":0.6},{"x":0.8}]},"mark":{"type":"rule","color":"#dddddd","strokeDash":[1,2]},"encoding":{"x":{"field":"x","type":"quantitative","scale":{"domain":[-0.2,0.8],"range":[1226,1649.2],"nice":false,"zero":false},"axis":{"orient":"bottom","title":"Pearson's correlation (chromothriptic)","values":[-0.2,0,0.2,0.4,0.6,0.8],"format":".1f","labelFontSize":18.5,"titleFontSize":19.2,"offset":-84.3,"labelPadding":3,"titlePadding":2,"titleX":1440}},"y":{"datum":-0.3,"scale":{"domain":[-0.2,1],"range":[1675,1335],"nice":false,"zero":false},"axis":{"orient":"left","title":"Pearson's correlation (non−chromothriptic)","values":[-0.2,0,0.2,0.4,0.6,0.8,1],"format":".1f","labelAngle":-90,"labelFontSize":18.5,"titleFontSize":19.2,"offset":-1184.6,"labelPadding":5,"titlePadding":2,"titleY":1519}},"y2":{"datum":1}}},
{"data":{"values":[{"y":-0.2},{"y":0},{"y":0.2},{"y":0.4},{"y":0.6},{"y":0.8},{"y":1}]},"mark":{"type":"rule","color":"#dddddd","strokeDash":[1,2]},"encoding":{"y":{"field":"y","type":"quantitative"},"x":{"datum":-0.3},"x2":{"datum":0.9}}},
{"data":{"values":[{"x":-0.25,"lo":-0.29,"hi":-0.15},{"x":-0.2,"lo":-0.27,"hi":-0.08},{"x":-0.1,"lo":-0.2,"hi":0.07},{"x":0,"lo":-0.1,"hi":0.24},{"x":0.1,"lo":-0.02,"hi":0.38},{"x":0.2,"lo":0.08,"hi":0.51},{"x":0.3,"lo":0.19,"hi":0.6},{"x":0.4,"lo":0.32,"hi":0.68},{"x":0.5,"lo":0.42,"hi":0.74},{"x":0.6,"lo":0.54,"hi":0.77},{"x":0.7,"lo":0.68,"hi":0.76},{"x":0.74,"lo":0.72,"hi":0.74}]},"mark":{"type":"area","color":"#4d4d4d","opacity":0.7,"interpolate":"monotone"},"encoding":{"x":{"field":"x","type":"quantitative"},"y":{"field":"lo","type":"quantitative"},"y2":{"field":"hi"}}},
{"data":{"values":[{"x":-0.23,"lo":-0.25,"hi":-0.18},{"x":-0.2,"lo":-0.24,"hi":-0.1},{"x":-0.1,"lo":-0.17,"hi":0.05},{"x":0,"lo":-0.08,"hi":0.2},{"x":0.1,"lo":0,"hi":0.34},{"x":0.2,"lo":0.1,"hi":0.47},{"x":0.3,"lo":0.22,"hi":0.55},{"x":0.4,"lo":0.35,"hi":0.63},{"x":0.5,"lo":0.44,"hi":0.7},{"x":0.6,"lo":0.57,"hi":0.74},{"x":0.68,"lo":0.67,"hi":0.73}]},"mark":{"type":"area","color":"#4d4d4d","interpolate":"monotone"},"encoding":{"x":{"field":"x","type":"quantitative"},"y":{"field":"lo","type":"quantitative"},"y2":{"field":"hi"}}},
{"data":{"values":[{"x":0.867,"y":0.884},{"x":0.811,"y":0.215},{"x":0.388,"y":0.008},{"x":0.011,"y":0.562},{"x":0.108,"y":0.572},{"x":-0.016,"y":0.508},{"x":0.1,"y":0.479},{"x":0.103,"y":0.476},{"x":0.094,"y":0.446},{"x":0.093,"y":0.394},{"x":0.057,"y":0.382},{"x":-0.079,"y":0.208},{"x":-0.117,"y":0.135},{"x":-0.042,"y":0.255},{"x":-0.031,"y":0.247},{"x":-0.011,"y":0.27},{"x":-0.192,"y":-0.049},{"x":-0.148,"y":0.035},{"x":-0.117,"y":0.07},{"x":-0.078,"y":0.147},{"x":-0.06,"y":0.165},{"x":-0.034,"y":0.194},{"x":0.019,"y":0.288},{"x":0.028,"y":0.324},{"x":0.055,"y":0.347},{"x":0.116,"y":0.406},{"x":0.143,"y":0.453},{"x":0.178,"y":0.494},{"x":0.209,"y":0.571},{"x":0.225,"y":0.618},{"x":0.266,"y":0.659},{"x":0.29,"y":0.656},{"x":0.324,"y":0.653},{"x":0.346,"y":0.659},{"x":0.384,"y":0.729},{"x":0.401,"y":0.712},{"x":0.434,"y":0.729},{"x":0.493,"y":0.759},{"x":0.54,"y":0.765},{"x":0.575,"y":0.774},{"x":0.615,"y":0.776},{"x":0.62,"y":0.796},{"x":0.659,"y":0.774},{"x":0.703,"y":0.8},{"x":0.718,"y":0.794},{"x":0.729,"y":0.762},{"x":0.688,"y":0.745},{"x":0.72,"y":0.729},{"x":0.75,"y":0.712},{"x":0.747,"y":0.7},{"x":0.762,"y":0.649},{"x":0.729,"y":0.613},{"x":0.696,"y":0.653},{"x":0.696,"y":0.586},{"x":0.681,"y":0.547},{"x":0.632,"y":0.512},{"x":0.584,"y":0.468},{"x":0.61,"y":0.435},{"x":0.564,"y":0.418},{"x":0.54,"y":0.382},{"x":0.511,"y":0.321},{"x":0.496,"y":0.335},{"x":0.482,"y":0.347},{"x":0.46,"y":0.288},{"x":0.472,"y":0.227},{"x":0.437,"y":0.224},{"x":0.465,"y":0.253},{"x":0.434,"y":0.276},{"x":0.394,"y":0.206},{"x":0.396,"y":0.149},{"x":0.372,"y":0.206},{"x":0.347,"y":0.145},{"x":0.319,"y":0.135},{"x":0.299,"y":0.091},{"x":0.28,"y":0.088},{"x":0.25,"y":0.047},{"x":0.257,"y":0.076},{"x":0.203,"y":-0.012},{"x":0.169,"y":-0.053},{"x":0.16,"y":-0.053},{"x":0.119,"y":-0.08},{"x":0.097,"y":-0.1},{"x":0.072,"y":-0.124},{"x":0.052,"y":-0.138},{"x":0.028,"y":-0.151},{"x":-0.019,"y":-0.208},{"x":-0.051,"y":-0.2},{"x":-0.06,"y":-0.229},{"x":-0.082,"y":-0.229},{"x":-0.146,"y":-0.251},{"x":-0.173,"y":-0.271},{"x":-0.204,"y":-0.288},{"x":-0.23,"y":-0.294},{"x":-0.25,"y":-0.271},{"x":-0.25,"y":-0.239},{"x":-0.254,"y":-0.185},{"x":-0.241,"y":-0.165},{"x":-0.21,"y":-0.112},{"x":-0.219,"y":-0.218},{"x":-0.183,"y":-0.194},{"x":-0.16,"y":-0.03},{"x":-0.13,"y":0.03},{"x":-0.09,"y":0.09},{"x":-0.05,"y":0.16},{"x":0.04,"y":0.3},{"x":0.08,"y":0.37},{"x":0.13,"y":0.43},{"x":0.17,"y":0.5},{"x":0.2,"y":0.53},{"x":0.25,"y":0.58},{"x":0.31,"y":0.62},{"x":0.36,"y":0.66},{"x":0.44,"y":0.7},{"x":0.52,"y":0.74},{"x":0.58,"y":0.75},{"x":0.65,"y":0.72},{"x":0.67,"y":0.66},{"x":0.64,"y":0.6},{"x":0.6,"y":0.53},{"x":0.55,"y":0.46},{"x":0.5,"y":0.39},{"x":0.45,"y":0.32},{"x":0.38,"y":0.27},{"x":0.33,"y":0.18},{"x":0.27,"y":0.12},{"x":0.22,"y":0.06},{"x":0.17,"y":0},{"x":0.12,"y":-0.04},{"x":0.06,"y":-0.09},{"x":0,"y":-0.12},{"x":-0.04,"y":-0.16},{"x":-0.1,"y":-0.2},{"x":-0.15,"y":-0.22}]},"mark":{"type":"point","filled":false,"size":70,"strokeWidth":1.1,"color":"#707070","opacity":0.75},"encoding":{"x":{"field":"x","type":"quantitative"},"y":{"field":"y","type":"quantitative"}}},
{"data":{"values":[{"x":-0.298,"y":-0.298,"x2":0.906,"y2":0.906}]},"mark":{"type":"rule","color":"#111111","strokeDash":[3,3],"strokeWidth":1},"encoding":{"x":{"field":"x","type":"quantitative"},"y":{"field":"y","type":"quantitative"},"x2":{"field":"x2"},"y2":{"field":"y2"}}},
{"data":{"values":[{"x":0.21,"y":0.688,"x2":0.36,"y2":0.508},{"x":0.31,"y":0.755,"x2":0.461,"y2":0.574},{"x":0.612,"y":0.865,"x2":0.713,"y2":0.765}]},"mark":{"type":"rule","color":"#cc3322","strokeWidth":1.2},"encoding":{"x":{"field":"x","type":"quantitative"},"y":{"field":"y","type":"quantitative"},"x2":{"field":"x2"},"y2":{"field":"y2"}}},
{"data":{"values":[{"x":0.36,"y":0.508},{"x":0.461,"y":0.574},{"x":0.713,"y":0.765}]},"mark":{"type":"point","filled":true,"size":70,"color":"#cc3322","opacity":1},"encoding":{"x":{"field":"x","type":"quantitative"},"y":{"field":"y","type":"quantitative"}}},
{"data":{"values":[{"t":"TOPBP1:CIP2A","x":0.553,"y":0.882},{"t":"TOPBP1:MDC1","x":0.25,"y":0.773},{"t":"MDC1:CIP2A","x":0.149,"y":0.707}]},"mark":{"type":"text","fontSize":9.6,"color":"#cc3322"},"encoding":{"x":{"field":"x","type":"quantitative"},"y":{"field":"y","type":"quantitative"},"text":{"field":"t"}}},
{"data":{"values":[{"t":"I","x":-0.417,"y":1.505}]},"mark":{"type":"text","fontSize":46,"fontWeight":"bold","baseline":"alphabetic","color":"#231f20"},"encoding":{"x":{"field":"x","type":"quantitative"},"y":{"field":"y","type":"quantitative"},"text":{"field":"t"}}}
]}
]}
